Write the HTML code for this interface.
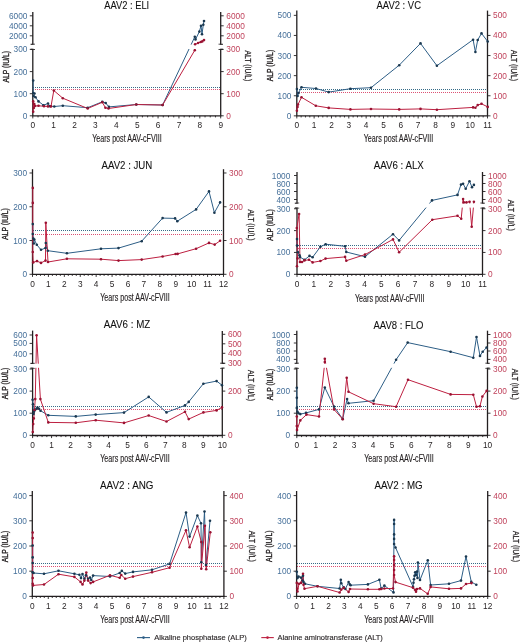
<!DOCTYPE html>
<html><head><meta charset="utf-8"><style>
html,body{margin:0;padding:0;background:#fff;}
svg{display:block;font-family:"Liberation Sans", sans-serif;will-change:transform;filter:blur(0.3px);}
</style></head><body>
<svg width="520" height="642" viewBox="0 0 520 642">
<text x="104.2" y="8.6" font-size="10.2" textLength="45" lengthAdjust="spacingAndGlyphs" fill="#111" stroke="#111" stroke-width="0.08">AAV2 : ELI</text>
<line x1="33" y1="87.5" x2="220.2" y2="87.5" stroke="#366c88" stroke-width="1" stroke-dasharray="1,1"/>
<line x1="33" y1="89.5" x2="220.2" y2="89.5" stroke="#dc5274" stroke-width="1" stroke-dasharray="1,1"/>
<line x1="32.8" y1="12" x2="32.8" y2="44.3" stroke="#231f20" stroke-width="1.3"/>
<line x1="32.8" y1="49.3" x2="32.8" y2="115.8" stroke="#231f20" stroke-width="1.3"/>
<line x1="220.7" y1="12" x2="220.7" y2="44.3" stroke="#231f20" stroke-width="1.3"/>
<line x1="220.7" y1="49.3" x2="220.7" y2="115.8" stroke="#231f20" stroke-width="1.3"/>
<line x1="30.6" y1="44.3" x2="35" y2="44.3" stroke="#231f20" stroke-width="1.1"/>
<line x1="30.6" y1="49.3" x2="35" y2="49.3" stroke="#231f20" stroke-width="1.1"/>
<line x1="218.5" y1="44.3" x2="222.9" y2="44.3" stroke="#231f20" stroke-width="1.1"/>
<line x1="218.5" y1="49.3" x2="222.9" y2="49.3" stroke="#231f20" stroke-width="1.1"/>
<line x1="32.2" y1="115.8" x2="221.3" y2="115.8" stroke="#231f20" stroke-width="1.3"/>
<line x1="32.8" y1="115.8" x2="32.8" y2="118.4" stroke="#231f20" stroke-width="0.9"/>
<line x1="38.02" y1="115.8" x2="38.02" y2="117.4" stroke="#231f20" stroke-width="0.9"/>
<line x1="43.24" y1="115.8" x2="43.24" y2="117.4" stroke="#231f20" stroke-width="0.9"/>
<line x1="48.46" y1="115.8" x2="48.46" y2="117.4" stroke="#231f20" stroke-width="0.9"/>
<line x1="53.68" y1="115.8" x2="53.68" y2="118.4" stroke="#231f20" stroke-width="0.9"/>
<line x1="58.9" y1="115.8" x2="58.9" y2="117.4" stroke="#231f20" stroke-width="0.9"/>
<line x1="64.12" y1="115.8" x2="64.12" y2="117.4" stroke="#231f20" stroke-width="0.9"/>
<line x1="69.34" y1="115.8" x2="69.34" y2="117.4" stroke="#231f20" stroke-width="0.9"/>
<line x1="74.56" y1="115.8" x2="74.56" y2="118.4" stroke="#231f20" stroke-width="0.9"/>
<line x1="79.77" y1="115.8" x2="79.77" y2="117.4" stroke="#231f20" stroke-width="0.9"/>
<line x1="84.99" y1="115.8" x2="84.99" y2="117.4" stroke="#231f20" stroke-width="0.9"/>
<line x1="90.21" y1="115.8" x2="90.21" y2="117.4" stroke="#231f20" stroke-width="0.9"/>
<line x1="95.43" y1="115.8" x2="95.43" y2="118.4" stroke="#231f20" stroke-width="0.9"/>
<line x1="100.65" y1="115.8" x2="100.65" y2="117.4" stroke="#231f20" stroke-width="0.9"/>
<line x1="105.87" y1="115.8" x2="105.87" y2="117.4" stroke="#231f20" stroke-width="0.9"/>
<line x1="111.09" y1="115.8" x2="111.09" y2="117.4" stroke="#231f20" stroke-width="0.9"/>
<line x1="116.31" y1="115.8" x2="116.31" y2="118.4" stroke="#231f20" stroke-width="0.9"/>
<line x1="121.53" y1="115.8" x2="121.53" y2="117.4" stroke="#231f20" stroke-width="0.9"/>
<line x1="126.75" y1="115.8" x2="126.75" y2="117.4" stroke="#231f20" stroke-width="0.9"/>
<line x1="131.97" y1="115.8" x2="131.97" y2="117.4" stroke="#231f20" stroke-width="0.9"/>
<line x1="137.19" y1="115.8" x2="137.19" y2="118.4" stroke="#231f20" stroke-width="0.9"/>
<line x1="142.41" y1="115.8" x2="142.41" y2="117.4" stroke="#231f20" stroke-width="0.9"/>
<line x1="147.63" y1="115.8" x2="147.63" y2="117.4" stroke="#231f20" stroke-width="0.9"/>
<line x1="152.85" y1="115.8" x2="152.85" y2="117.4" stroke="#231f20" stroke-width="0.9"/>
<line x1="158.07" y1="115.8" x2="158.07" y2="118.4" stroke="#231f20" stroke-width="0.9"/>
<line x1="163.29" y1="115.8" x2="163.29" y2="117.4" stroke="#231f20" stroke-width="0.9"/>
<line x1="168.51" y1="115.8" x2="168.51" y2="117.4" stroke="#231f20" stroke-width="0.9"/>
<line x1="173.72" y1="115.8" x2="173.72" y2="117.4" stroke="#231f20" stroke-width="0.9"/>
<line x1="178.94" y1="115.8" x2="178.94" y2="118.4" stroke="#231f20" stroke-width="0.9"/>
<line x1="184.16" y1="115.8" x2="184.16" y2="117.4" stroke="#231f20" stroke-width="0.9"/>
<line x1="189.38" y1="115.8" x2="189.38" y2="117.4" stroke="#231f20" stroke-width="0.9"/>
<line x1="194.6" y1="115.8" x2="194.6" y2="117.4" stroke="#231f20" stroke-width="0.9"/>
<line x1="199.82" y1="115.8" x2="199.82" y2="118.4" stroke="#231f20" stroke-width="0.9"/>
<line x1="205.04" y1="115.8" x2="205.04" y2="117.4" stroke="#231f20" stroke-width="0.9"/>
<line x1="210.26" y1="115.8" x2="210.26" y2="117.4" stroke="#231f20" stroke-width="0.9"/>
<line x1="215.48" y1="115.8" x2="215.48" y2="117.4" stroke="#231f20" stroke-width="0.9"/>
<line x1="220.7" y1="115.8" x2="220.7" y2="118.4" stroke="#231f20" stroke-width="0.9"/>
<text x="32.8" y="128.1" font-size="8.3" text-anchor="middle" fill="#231f20">0</text>
<text x="53.68" y="128.1" font-size="8.3" text-anchor="middle" fill="#231f20">1</text>
<text x="74.56" y="128.1" font-size="8.3" text-anchor="middle" fill="#231f20">2</text>
<text x="95.43" y="128.1" font-size="8.3" text-anchor="middle" fill="#231f20">3</text>
<text x="116.31" y="128.1" font-size="8.3" text-anchor="middle" fill="#231f20">4</text>
<text x="137.19" y="128.1" font-size="8.3" text-anchor="middle" fill="#231f20">5</text>
<text x="158.07" y="128.1" font-size="8.3" text-anchor="middle" fill="#231f20">6</text>
<text x="178.94" y="128.1" font-size="8.3" text-anchor="middle" fill="#231f20">7</text>
<text x="199.82" y="128.1" font-size="8.3" text-anchor="middle" fill="#231f20">8</text>
<text x="220.7" y="128.1" font-size="8.3" text-anchor="middle" fill="#231f20">9</text>
<line x1="29.8" y1="115.8" x2="32.8" y2="115.8" stroke="#231f20" stroke-width="0.9"/>
<text x="27.4" y="118.8" font-size="8.3" text-anchor="end" fill="#46709a">0</text>
<line x1="29.8" y1="93.7" x2="32.8" y2="93.7" stroke="#231f20" stroke-width="0.9"/>
<text x="27.4" y="96.7" font-size="8.3" text-anchor="end" fill="#46709a">100</text>
<line x1="29.8" y1="71.6" x2="32.8" y2="71.6" stroke="#231f20" stroke-width="0.9"/>
<text x="27.4" y="74.6" font-size="8.3" text-anchor="end" fill="#46709a">200</text>
<line x1="29.8" y1="49.4" x2="32.8" y2="49.4" stroke="#231f20" stroke-width="0.9"/>
<text x="27.4" y="52.4" font-size="8.3" text-anchor="end" fill="#46709a">300</text>
<line x1="29.8" y1="35.8" x2="32.8" y2="35.8" stroke="#231f20" stroke-width="0.9"/>
<text x="27.4" y="38.8" font-size="8.3" text-anchor="end" fill="#46709a">2000</text>
<line x1="29.8" y1="25.8" x2="32.8" y2="25.8" stroke="#231f20" stroke-width="0.9"/>
<text x="27.4" y="28.8" font-size="8.3" text-anchor="end" fill="#46709a">4000</text>
<line x1="29.8" y1="15.8" x2="32.8" y2="15.8" stroke="#231f20" stroke-width="0.9"/>
<text x="27.4" y="18.8" font-size="8.3" text-anchor="end" fill="#46709a">6000</text>
<line x1="220.7" y1="115.8" x2="223.7" y2="115.8" stroke="#231f20" stroke-width="0.9"/>
<text x="226.3" y="118.8" font-size="8.3" fill="#c0435c">0</text>
<line x1="220.7" y1="93.7" x2="223.7" y2="93.7" stroke="#231f20" stroke-width="0.9"/>
<text x="226.3" y="96.7" font-size="8.3" fill="#c0435c">100</text>
<line x1="220.7" y1="71.6" x2="223.7" y2="71.6" stroke="#231f20" stroke-width="0.9"/>
<text x="226.3" y="74.6" font-size="8.3" fill="#c0435c">200</text>
<line x1="220.7" y1="49.4" x2="223.7" y2="49.4" stroke="#231f20" stroke-width="0.9"/>
<text x="226.3" y="52.4" font-size="8.3" fill="#c0435c">300</text>
<line x1="220.7" y1="35.8" x2="223.7" y2="35.8" stroke="#231f20" stroke-width="0.9"/>
<text x="226.3" y="38.8" font-size="8.3" fill="#c0435c">2000</text>
<line x1="220.7" y1="25.8" x2="223.7" y2="25.8" stroke="#231f20" stroke-width="0.9"/>
<text x="226.3" y="28.8" font-size="8.3" fill="#c0435c">4000</text>
<line x1="220.7" y1="15.8" x2="223.7" y2="15.8" stroke="#231f20" stroke-width="0.9"/>
<text x="226.3" y="18.8" font-size="8.3" fill="#c0435c">6000</text>
<text x="126.9" y="141.9" font-size="10" text-anchor="middle" textLength="69.5" lengthAdjust="spacingAndGlyphs" fill="#231f20" stroke="#231f20" stroke-width="0.15">Years post AAV-cFVIII</text>
<text transform="translate(8.6,66.8) rotate(-90)" font-size="8.6" text-anchor="middle" textLength="31.5" lengthAdjust="spacingAndGlyphs" fill="#231f20" stroke="#231f20" stroke-width="0.35">ALP (IU/L)</text>
<text transform="translate(245,65.9) rotate(90)" font-size="8.8" text-anchor="middle" textLength="31" lengthAdjust="spacingAndGlyphs" fill="#231f20" stroke="#231f20" stroke-width="0.25">ALT (IU/L)</text>
<polyline points="33.2,80.5 33.2,93 34.5,93.5 33.6,96 35.5,97.3 38.5,101.4 43.5,105.2 48,103.5 50,106.2 54.3,106.5 62.8,105.7 87.7,107.7 102.3,101.8 105.7,103 108.9,106.9 136.3,104.5 162.6,105 194.8,36.8 195.5,39.4 199.4,31.6 201,25.7 202,34.2 203.3,24.7 204,21" fill="none" stroke="#2d5e86" stroke-width="1" stroke-linejoin="round"/>
<polyline points="33.2,111.7 33.2,101.4 33.8,108 34.3,104 35,106 38.5,105.8 44,106.2 48,106.4 51,106.4 53.8,90.5 62.8,98.2 87.7,108.5 102.3,102.3 105.4,107.7 108.5,108.5 136.3,104.5 162.6,105 194.8,50.2 195.1,44.3 198.1,43 200.7,42 202.3,41.4 204,40.1" fill="none" stroke="#bd1f40" stroke-width="1" stroke-linejoin="round"/>
<rect x="33.6" y="44.6" width="186.3" height="4.4" fill="#fff"/>
<circle cx="33.2" cy="80.5" r="1.3" fill="#1a3850"/>
<circle cx="33.2" cy="93" r="1.3" fill="#1a3850"/>
<circle cx="34.5" cy="93.5" r="1.3" fill="#1a3850"/>
<circle cx="33.6" cy="96" r="1.3" fill="#1a3850"/>
<circle cx="35.5" cy="97.3" r="1.3" fill="#1a3850"/>
<circle cx="38.5" cy="101.4" r="1.3" fill="#1a3850"/>
<circle cx="43.5" cy="105.2" r="1.3" fill="#1a3850"/>
<circle cx="48" cy="103.5" r="1.3" fill="#1a3850"/>
<circle cx="50" cy="106.2" r="1.3" fill="#1a3850"/>
<circle cx="54.3" cy="106.5" r="1.3" fill="#1a3850"/>
<circle cx="62.8" cy="105.7" r="1.3" fill="#1a3850"/>
<circle cx="87.7" cy="107.7" r="1.3" fill="#1a3850"/>
<circle cx="102.3" cy="101.8" r="1.3" fill="#1a3850"/>
<circle cx="105.7" cy="103" r="1.3" fill="#1a3850"/>
<circle cx="108.9" cy="106.9" r="1.3" fill="#1a3850"/>
<circle cx="136.3" cy="104.5" r="1.3" fill="#1a3850"/>
<circle cx="162.6" cy="105" r="1.3" fill="#1a3850"/>
<circle cx="194.8" cy="36.8" r="1.3" fill="#1a3850"/>
<circle cx="195.5" cy="39.4" r="1.3" fill="#1a3850"/>
<circle cx="199.4" cy="31.6" r="1.3" fill="#1a3850"/>
<circle cx="201" cy="25.7" r="1.3" fill="#1a3850"/>
<circle cx="202" cy="34.2" r="1.3" fill="#1a3850"/>
<circle cx="203.3" cy="24.7" r="1.3" fill="#1a3850"/>
<circle cx="204" cy="21" r="1.3" fill="#1a3850"/>
<circle cx="33.2" cy="111.7" r="1.3" fill="#9a1232"/>
<circle cx="33.2" cy="101.4" r="1.3" fill="#9a1232"/>
<circle cx="33.8" cy="108" r="1.3" fill="#9a1232"/>
<circle cx="34.3" cy="104" r="1.3" fill="#9a1232"/>
<circle cx="35" cy="106" r="1.3" fill="#9a1232"/>
<circle cx="38.5" cy="105.8" r="1.3" fill="#9a1232"/>
<circle cx="44" cy="106.2" r="1.3" fill="#9a1232"/>
<circle cx="48" cy="106.4" r="1.3" fill="#9a1232"/>
<circle cx="51" cy="106.4" r="1.3" fill="#9a1232"/>
<circle cx="53.8" cy="90.5" r="1.3" fill="#9a1232"/>
<circle cx="62.8" cy="98.2" r="1.3" fill="#9a1232"/>
<circle cx="87.7" cy="108.5" r="1.3" fill="#9a1232"/>
<circle cx="102.3" cy="102.3" r="1.3" fill="#9a1232"/>
<circle cx="105.4" cy="107.7" r="1.3" fill="#9a1232"/>
<circle cx="108.5" cy="108.5" r="1.3" fill="#9a1232"/>
<circle cx="136.3" cy="104.5" r="1.3" fill="#9a1232"/>
<circle cx="162.6" cy="105" r="1.3" fill="#9a1232"/>
<circle cx="194.8" cy="50.2" r="1.3" fill="#9a1232"/>
<circle cx="195.1" cy="44.3" r="1.3" fill="#9a1232"/>
<circle cx="198.1" cy="43" r="1.3" fill="#9a1232"/>
<circle cx="200.7" cy="42" r="1.3" fill="#9a1232"/>
<circle cx="202.3" cy="41.4" r="1.3" fill="#9a1232"/>
<circle cx="204" cy="40.1" r="1.3" fill="#9a1232"/>
<text x="376.5" y="8.6" font-size="10.2" textLength="44.5" lengthAdjust="spacingAndGlyphs" fill="#111" stroke="#111" stroke-width="0.08">AAV2 : VC</text>
<line x1="297" y1="89.5" x2="487" y2="89.5" stroke="#366c88" stroke-width="1" stroke-dasharray="1,1"/>
<line x1="297" y1="92.5" x2="487" y2="92.5" stroke="#dc5274" stroke-width="1" stroke-dasharray="1,1"/>
<line x1="296.8" y1="10.6" x2="296.8" y2="115.85" stroke="#231f20" stroke-width="1.3"/>
<line x1="487.5" y1="10.6" x2="487.5" y2="115.85" stroke="#231f20" stroke-width="1.3"/>
<line x1="296.2" y1="115.85" x2="488.1" y2="115.85" stroke="#231f20" stroke-width="1.3"/>
<line x1="296.8" y1="115.85" x2="296.8" y2="118.45" stroke="#231f20" stroke-width="0.9"/>
<line x1="301.13" y1="115.85" x2="301.13" y2="117.45" stroke="#231f20" stroke-width="0.9"/>
<line x1="305.47" y1="115.85" x2="305.47" y2="117.45" stroke="#231f20" stroke-width="0.9"/>
<line x1="309.8" y1="115.85" x2="309.8" y2="117.45" stroke="#231f20" stroke-width="0.9"/>
<line x1="314.14" y1="115.85" x2="314.14" y2="118.45" stroke="#231f20" stroke-width="0.9"/>
<line x1="318.47" y1="115.85" x2="318.47" y2="117.45" stroke="#231f20" stroke-width="0.9"/>
<line x1="322.8" y1="115.85" x2="322.8" y2="117.45" stroke="#231f20" stroke-width="0.9"/>
<line x1="327.14" y1="115.85" x2="327.14" y2="117.45" stroke="#231f20" stroke-width="0.9"/>
<line x1="331.47" y1="115.85" x2="331.47" y2="118.45" stroke="#231f20" stroke-width="0.9"/>
<line x1="335.81" y1="115.85" x2="335.81" y2="117.45" stroke="#231f20" stroke-width="0.9"/>
<line x1="340.14" y1="115.85" x2="340.14" y2="117.45" stroke="#231f20" stroke-width="0.9"/>
<line x1="344.48" y1="115.85" x2="344.48" y2="117.45" stroke="#231f20" stroke-width="0.9"/>
<line x1="348.81" y1="115.85" x2="348.81" y2="118.45" stroke="#231f20" stroke-width="0.9"/>
<line x1="353.14" y1="115.85" x2="353.14" y2="117.45" stroke="#231f20" stroke-width="0.9"/>
<line x1="357.48" y1="115.85" x2="357.48" y2="117.45" stroke="#231f20" stroke-width="0.9"/>
<line x1="361.81" y1="115.85" x2="361.81" y2="117.45" stroke="#231f20" stroke-width="0.9"/>
<line x1="366.15" y1="115.85" x2="366.15" y2="118.45" stroke="#231f20" stroke-width="0.9"/>
<line x1="370.48" y1="115.85" x2="370.48" y2="117.45" stroke="#231f20" stroke-width="0.9"/>
<line x1="374.81" y1="115.85" x2="374.81" y2="117.45" stroke="#231f20" stroke-width="0.9"/>
<line x1="379.15" y1="115.85" x2="379.15" y2="117.45" stroke="#231f20" stroke-width="0.9"/>
<line x1="383.48" y1="115.85" x2="383.48" y2="118.45" stroke="#231f20" stroke-width="0.9"/>
<line x1="387.82" y1="115.85" x2="387.82" y2="117.45" stroke="#231f20" stroke-width="0.9"/>
<line x1="392.15" y1="115.85" x2="392.15" y2="117.45" stroke="#231f20" stroke-width="0.9"/>
<line x1="396.48" y1="115.85" x2="396.48" y2="117.45" stroke="#231f20" stroke-width="0.9"/>
<line x1="400.82" y1="115.85" x2="400.82" y2="118.45" stroke="#231f20" stroke-width="0.9"/>
<line x1="405.15" y1="115.85" x2="405.15" y2="117.45" stroke="#231f20" stroke-width="0.9"/>
<line x1="409.49" y1="115.85" x2="409.49" y2="117.45" stroke="#231f20" stroke-width="0.9"/>
<line x1="413.82" y1="115.85" x2="413.82" y2="117.45" stroke="#231f20" stroke-width="0.9"/>
<line x1="418.15" y1="115.85" x2="418.15" y2="118.45" stroke="#231f20" stroke-width="0.9"/>
<line x1="422.49" y1="115.85" x2="422.49" y2="117.45" stroke="#231f20" stroke-width="0.9"/>
<line x1="426.82" y1="115.85" x2="426.82" y2="117.45" stroke="#231f20" stroke-width="0.9"/>
<line x1="431.16" y1="115.85" x2="431.16" y2="117.45" stroke="#231f20" stroke-width="0.9"/>
<line x1="435.49" y1="115.85" x2="435.49" y2="118.45" stroke="#231f20" stroke-width="0.9"/>
<line x1="439.83" y1="115.85" x2="439.83" y2="117.45" stroke="#231f20" stroke-width="0.9"/>
<line x1="444.16" y1="115.85" x2="444.16" y2="117.45" stroke="#231f20" stroke-width="0.9"/>
<line x1="448.49" y1="115.85" x2="448.49" y2="117.45" stroke="#231f20" stroke-width="0.9"/>
<line x1="452.83" y1="115.85" x2="452.83" y2="118.45" stroke="#231f20" stroke-width="0.9"/>
<line x1="457.16" y1="115.85" x2="457.16" y2="117.45" stroke="#231f20" stroke-width="0.9"/>
<line x1="461.5" y1="115.85" x2="461.5" y2="117.45" stroke="#231f20" stroke-width="0.9"/>
<line x1="465.83" y1="115.85" x2="465.83" y2="117.45" stroke="#231f20" stroke-width="0.9"/>
<line x1="470.16" y1="115.85" x2="470.16" y2="118.45" stroke="#231f20" stroke-width="0.9"/>
<line x1="474.5" y1="115.85" x2="474.5" y2="117.45" stroke="#231f20" stroke-width="0.9"/>
<line x1="478.83" y1="115.85" x2="478.83" y2="117.45" stroke="#231f20" stroke-width="0.9"/>
<line x1="483.17" y1="115.85" x2="483.17" y2="117.45" stroke="#231f20" stroke-width="0.9"/>
<line x1="487.5" y1="115.85" x2="487.5" y2="118.45" stroke="#231f20" stroke-width="0.9"/>
<text x="296.8" y="128.15" font-size="8.3" text-anchor="middle" fill="#231f20">0</text>
<text x="314.14" y="128.15" font-size="8.3" text-anchor="middle" fill="#231f20">1</text>
<text x="331.47" y="128.15" font-size="8.3" text-anchor="middle" fill="#231f20">2</text>
<text x="348.81" y="128.15" font-size="8.3" text-anchor="middle" fill="#231f20">3</text>
<text x="366.15" y="128.15" font-size="8.3" text-anchor="middle" fill="#231f20">4</text>
<text x="383.48" y="128.15" font-size="8.3" text-anchor="middle" fill="#231f20">5</text>
<text x="400.82" y="128.15" font-size="8.3" text-anchor="middle" fill="#231f20">6</text>
<text x="418.15" y="128.15" font-size="8.3" text-anchor="middle" fill="#231f20">7</text>
<text x="435.49" y="128.15" font-size="8.3" text-anchor="middle" fill="#231f20">8</text>
<text x="452.83" y="128.15" font-size="8.3" text-anchor="middle" fill="#231f20">9</text>
<text x="470.16" y="128.15" font-size="8.3" text-anchor="middle" fill="#231f20">10</text>
<text x="487.5" y="128.15" font-size="8.3" text-anchor="middle" fill="#231f20">11</text>
<line x1="293.8" y1="115.85" x2="296.8" y2="115.85" stroke="#231f20" stroke-width="0.9"/>
<text x="291.4" y="118.85" font-size="8.3" text-anchor="end" fill="#46709a">0</text>
<line x1="293.8" y1="95.75" x2="296.8" y2="95.75" stroke="#231f20" stroke-width="0.9"/>
<text x="291.4" y="98.75" font-size="8.3" text-anchor="end" fill="#46709a">100</text>
<line x1="293.8" y1="75.65" x2="296.8" y2="75.65" stroke="#231f20" stroke-width="0.9"/>
<text x="291.4" y="78.65" font-size="8.3" text-anchor="end" fill="#46709a">200</text>
<line x1="293.8" y1="55.55" x2="296.8" y2="55.55" stroke="#231f20" stroke-width="0.9"/>
<text x="291.4" y="58.55" font-size="8.3" text-anchor="end" fill="#46709a">300</text>
<line x1="293.8" y1="35.45" x2="296.8" y2="35.45" stroke="#231f20" stroke-width="0.9"/>
<text x="291.4" y="38.45" font-size="8.3" text-anchor="end" fill="#46709a">400</text>
<line x1="293.8" y1="15.35" x2="296.8" y2="15.35" stroke="#231f20" stroke-width="0.9"/>
<text x="291.4" y="18.35" font-size="8.3" text-anchor="end" fill="#46709a">500</text>
<line x1="487.5" y1="115.85" x2="490.5" y2="115.85" stroke="#231f20" stroke-width="0.9"/>
<text x="493.1" y="118.85" font-size="8.3" fill="#c0435c">0</text>
<line x1="487.5" y1="95.75" x2="490.5" y2="95.75" stroke="#231f20" stroke-width="0.9"/>
<text x="493.1" y="98.75" font-size="8.3" fill="#c0435c">100</text>
<line x1="487.5" y1="75.65" x2="490.5" y2="75.65" stroke="#231f20" stroke-width="0.9"/>
<text x="493.1" y="78.65" font-size="8.3" fill="#c0435c">200</text>
<line x1="487.5" y1="55.55" x2="490.5" y2="55.55" stroke="#231f20" stroke-width="0.9"/>
<text x="493.1" y="58.55" font-size="8.3" fill="#c0435c">300</text>
<line x1="487.5" y1="35.45" x2="490.5" y2="35.45" stroke="#231f20" stroke-width="0.9"/>
<text x="493.1" y="38.45" font-size="8.3" fill="#c0435c">400</text>
<line x1="487.5" y1="15.35" x2="490.5" y2="15.35" stroke="#231f20" stroke-width="0.9"/>
<text x="493.1" y="18.35" font-size="8.3" fill="#c0435c">500</text>
<text x="398.5" y="141.8" font-size="10" text-anchor="middle" textLength="69.5" lengthAdjust="spacingAndGlyphs" fill="#231f20" stroke="#231f20" stroke-width="0.15">Years post AAV-cFVIII</text>
<text transform="translate(272.6,65.6) rotate(-90)" font-size="8.6" text-anchor="middle" textLength="31.5" lengthAdjust="spacingAndGlyphs" fill="#231f20" stroke="#231f20" stroke-width="0.35">ALP (IU/L)</text>
<text transform="translate(511.3,65.6) rotate(90)" font-size="8.8" text-anchor="middle" textLength="31" lengthAdjust="spacingAndGlyphs" fill="#231f20" stroke="#231f20" stroke-width="0.25">ALT (IU/L)</text>
<polyline points="296.9,89 297.6,96 298.5,93 301.5,87.3 316,88.5 328.7,92.1 350.4,88.7 371,87.7 399.2,65.2 420.5,43.4 436.9,65.7 473.1,39.7 475.4,52 477.7,40 481.5,33.4 487.7,41.5" fill="none" stroke="#2d5e86" stroke-width="1" stroke-linejoin="round"/>
<polyline points="296.9,110.8 297.5,106.9 298,104.5 301.5,97.3 315.8,105.8 328.7,107.9 350.4,109.4 371,109 399.2,109.4 420.5,108.9 436.9,109.7 473.1,107.4 475.4,107.7 477.7,105.1 481.5,103.8 487.7,106.9" fill="none" stroke="#bd1f40" stroke-width="1" stroke-linejoin="round"/>
<circle cx="296.9" cy="89" r="1.3" fill="#1a3850"/>
<circle cx="297.6" cy="96" r="1.3" fill="#1a3850"/>
<circle cx="298.5" cy="93" r="1.3" fill="#1a3850"/>
<circle cx="301.5" cy="87.3" r="1.3" fill="#1a3850"/>
<circle cx="316" cy="88.5" r="1.3" fill="#1a3850"/>
<circle cx="328.7" cy="92.1" r="1.3" fill="#1a3850"/>
<circle cx="350.4" cy="88.7" r="1.3" fill="#1a3850"/>
<circle cx="371" cy="87.7" r="1.3" fill="#1a3850"/>
<circle cx="399.2" cy="65.2" r="1.3" fill="#1a3850"/>
<circle cx="420.5" cy="43.4" r="1.3" fill="#1a3850"/>
<circle cx="436.9" cy="65.7" r="1.3" fill="#1a3850"/>
<circle cx="473.1" cy="39.7" r="1.3" fill="#1a3850"/>
<circle cx="475.4" cy="52" r="1.3" fill="#1a3850"/>
<circle cx="477.7" cy="40" r="1.3" fill="#1a3850"/>
<circle cx="481.5" cy="33.4" r="1.3" fill="#1a3850"/>
<circle cx="487.7" cy="41.5" r="1.3" fill="#1a3850"/>
<circle cx="296.9" cy="110.8" r="1.3" fill="#9a1232"/>
<circle cx="297.5" cy="106.9" r="1.3" fill="#9a1232"/>
<circle cx="298" cy="104.5" r="1.3" fill="#9a1232"/>
<circle cx="301.5" cy="97.3" r="1.3" fill="#9a1232"/>
<circle cx="315.8" cy="105.8" r="1.3" fill="#9a1232"/>
<circle cx="328.7" cy="107.9" r="1.3" fill="#9a1232"/>
<circle cx="350.4" cy="109.4" r="1.3" fill="#9a1232"/>
<circle cx="371" cy="109" r="1.3" fill="#9a1232"/>
<circle cx="399.2" cy="109.4" r="1.3" fill="#9a1232"/>
<circle cx="420.5" cy="108.9" r="1.3" fill="#9a1232"/>
<circle cx="436.9" cy="109.7" r="1.3" fill="#9a1232"/>
<circle cx="473.1" cy="107.4" r="1.3" fill="#9a1232"/>
<circle cx="475.4" cy="107.7" r="1.3" fill="#9a1232"/>
<circle cx="477.7" cy="105.1" r="1.3" fill="#9a1232"/>
<circle cx="481.5" cy="103.8" r="1.3" fill="#9a1232"/>
<circle cx="487.7" cy="106.9" r="1.3" fill="#9a1232"/>
<text x="101.5" y="169.1" font-size="10.2" textLength="50.8" lengthAdjust="spacingAndGlyphs" fill="#111" stroke="#111" stroke-width="0.08">AAV2 : JUN</text>
<line x1="33" y1="230.5" x2="223" y2="230.5" stroke="#366c88" stroke-width="1" stroke-dasharray="1,1"/>
<line x1="33" y1="234.5" x2="223" y2="234.5" stroke="#dc5274" stroke-width="1" stroke-dasharray="1,1"/>
<line x1="32.5" y1="169.2" x2="32.5" y2="274.3" stroke="#231f20" stroke-width="1.3"/>
<line x1="223.5" y1="169.2" x2="223.5" y2="274.3" stroke="#231f20" stroke-width="1.3"/>
<line x1="31.9" y1="274.3" x2="224.1" y2="274.3" stroke="#231f20" stroke-width="1.3"/>
<line x1="32.5" y1="274.3" x2="32.5" y2="276.9" stroke="#231f20" stroke-width="0.9"/>
<line x1="36.48" y1="274.3" x2="36.48" y2="275.9" stroke="#231f20" stroke-width="0.9"/>
<line x1="40.46" y1="274.3" x2="40.46" y2="275.9" stroke="#231f20" stroke-width="0.9"/>
<line x1="44.44" y1="274.3" x2="44.44" y2="275.9" stroke="#231f20" stroke-width="0.9"/>
<line x1="48.42" y1="274.3" x2="48.42" y2="276.9" stroke="#231f20" stroke-width="0.9"/>
<line x1="52.4" y1="274.3" x2="52.4" y2="275.9" stroke="#231f20" stroke-width="0.9"/>
<line x1="56.38" y1="274.3" x2="56.38" y2="275.9" stroke="#231f20" stroke-width="0.9"/>
<line x1="60.35" y1="274.3" x2="60.35" y2="275.9" stroke="#231f20" stroke-width="0.9"/>
<line x1="64.33" y1="274.3" x2="64.33" y2="276.9" stroke="#231f20" stroke-width="0.9"/>
<line x1="68.31" y1="274.3" x2="68.31" y2="275.9" stroke="#231f20" stroke-width="0.9"/>
<line x1="72.29" y1="274.3" x2="72.29" y2="275.9" stroke="#231f20" stroke-width="0.9"/>
<line x1="76.27" y1="274.3" x2="76.27" y2="275.9" stroke="#231f20" stroke-width="0.9"/>
<line x1="80.25" y1="274.3" x2="80.25" y2="276.9" stroke="#231f20" stroke-width="0.9"/>
<line x1="84.23" y1="274.3" x2="84.23" y2="275.9" stroke="#231f20" stroke-width="0.9"/>
<line x1="88.21" y1="274.3" x2="88.21" y2="275.9" stroke="#231f20" stroke-width="0.9"/>
<line x1="92.19" y1="274.3" x2="92.19" y2="275.9" stroke="#231f20" stroke-width="0.9"/>
<line x1="96.17" y1="274.3" x2="96.17" y2="276.9" stroke="#231f20" stroke-width="0.9"/>
<line x1="100.15" y1="274.3" x2="100.15" y2="275.9" stroke="#231f20" stroke-width="0.9"/>
<line x1="104.12" y1="274.3" x2="104.12" y2="275.9" stroke="#231f20" stroke-width="0.9"/>
<line x1="108.1" y1="274.3" x2="108.1" y2="275.9" stroke="#231f20" stroke-width="0.9"/>
<line x1="112.08" y1="274.3" x2="112.08" y2="276.9" stroke="#231f20" stroke-width="0.9"/>
<line x1="116.06" y1="274.3" x2="116.06" y2="275.9" stroke="#231f20" stroke-width="0.9"/>
<line x1="120.04" y1="274.3" x2="120.04" y2="275.9" stroke="#231f20" stroke-width="0.9"/>
<line x1="124.02" y1="274.3" x2="124.02" y2="275.9" stroke="#231f20" stroke-width="0.9"/>
<line x1="128" y1="274.3" x2="128" y2="276.9" stroke="#231f20" stroke-width="0.9"/>
<line x1="131.98" y1="274.3" x2="131.98" y2="275.9" stroke="#231f20" stroke-width="0.9"/>
<line x1="135.96" y1="274.3" x2="135.96" y2="275.9" stroke="#231f20" stroke-width="0.9"/>
<line x1="139.94" y1="274.3" x2="139.94" y2="275.9" stroke="#231f20" stroke-width="0.9"/>
<line x1="143.92" y1="274.3" x2="143.92" y2="276.9" stroke="#231f20" stroke-width="0.9"/>
<line x1="147.9" y1="274.3" x2="147.9" y2="275.9" stroke="#231f20" stroke-width="0.9"/>
<line x1="151.88" y1="274.3" x2="151.88" y2="275.9" stroke="#231f20" stroke-width="0.9"/>
<line x1="155.85" y1="274.3" x2="155.85" y2="275.9" stroke="#231f20" stroke-width="0.9"/>
<line x1="159.83" y1="274.3" x2="159.83" y2="276.9" stroke="#231f20" stroke-width="0.9"/>
<line x1="163.81" y1="274.3" x2="163.81" y2="275.9" stroke="#231f20" stroke-width="0.9"/>
<line x1="167.79" y1="274.3" x2="167.79" y2="275.9" stroke="#231f20" stroke-width="0.9"/>
<line x1="171.77" y1="274.3" x2="171.77" y2="275.9" stroke="#231f20" stroke-width="0.9"/>
<line x1="175.75" y1="274.3" x2="175.75" y2="276.9" stroke="#231f20" stroke-width="0.9"/>
<line x1="179.73" y1="274.3" x2="179.73" y2="275.9" stroke="#231f20" stroke-width="0.9"/>
<line x1="183.71" y1="274.3" x2="183.71" y2="275.9" stroke="#231f20" stroke-width="0.9"/>
<line x1="187.69" y1="274.3" x2="187.69" y2="275.9" stroke="#231f20" stroke-width="0.9"/>
<line x1="191.67" y1="274.3" x2="191.67" y2="276.9" stroke="#231f20" stroke-width="0.9"/>
<line x1="195.65" y1="274.3" x2="195.65" y2="275.9" stroke="#231f20" stroke-width="0.9"/>
<line x1="199.62" y1="274.3" x2="199.62" y2="275.9" stroke="#231f20" stroke-width="0.9"/>
<line x1="203.6" y1="274.3" x2="203.6" y2="275.9" stroke="#231f20" stroke-width="0.9"/>
<line x1="207.58" y1="274.3" x2="207.58" y2="276.9" stroke="#231f20" stroke-width="0.9"/>
<line x1="211.56" y1="274.3" x2="211.56" y2="275.9" stroke="#231f20" stroke-width="0.9"/>
<line x1="215.54" y1="274.3" x2="215.54" y2="275.9" stroke="#231f20" stroke-width="0.9"/>
<line x1="219.52" y1="274.3" x2="219.52" y2="275.9" stroke="#231f20" stroke-width="0.9"/>
<line x1="223.5" y1="274.3" x2="223.5" y2="276.9" stroke="#231f20" stroke-width="0.9"/>
<text x="32.5" y="286.6" font-size="8.3" text-anchor="middle" fill="#231f20">0</text>
<text x="48.42" y="286.6" font-size="8.3" text-anchor="middle" fill="#231f20">1</text>
<text x="64.33" y="286.6" font-size="8.3" text-anchor="middle" fill="#231f20">2</text>
<text x="80.25" y="286.6" font-size="8.3" text-anchor="middle" fill="#231f20">3</text>
<text x="96.17" y="286.6" font-size="8.3" text-anchor="middle" fill="#231f20">4</text>
<text x="112.08" y="286.6" font-size="8.3" text-anchor="middle" fill="#231f20">5</text>
<text x="128" y="286.6" font-size="8.3" text-anchor="middle" fill="#231f20">6</text>
<text x="143.92" y="286.6" font-size="8.3" text-anchor="middle" fill="#231f20">7</text>
<text x="159.83" y="286.6" font-size="8.3" text-anchor="middle" fill="#231f20">8</text>
<text x="175.75" y="286.6" font-size="8.3" text-anchor="middle" fill="#231f20">9</text>
<text x="191.67" y="286.6" font-size="8.3" text-anchor="middle" fill="#231f20">10</text>
<text x="207.58" y="286.6" font-size="8.3" text-anchor="middle" fill="#231f20">11</text>
<text x="223.5" y="286.6" font-size="8.3" text-anchor="middle" fill="#231f20">12</text>
<line x1="29.5" y1="274.3" x2="32.5" y2="274.3" stroke="#231f20" stroke-width="0.9"/>
<text x="27.1" y="277.3" font-size="8.3" text-anchor="end" fill="#46709a">0</text>
<line x1="29.5" y1="240.53" x2="32.5" y2="240.53" stroke="#231f20" stroke-width="0.9"/>
<text x="27.1" y="243.53" font-size="8.3" text-anchor="end" fill="#46709a">100</text>
<line x1="29.5" y1="206.76" x2="32.5" y2="206.76" stroke="#231f20" stroke-width="0.9"/>
<text x="27.1" y="209.76" font-size="8.3" text-anchor="end" fill="#46709a">200</text>
<line x1="29.5" y1="172.99" x2="32.5" y2="172.99" stroke="#231f20" stroke-width="0.9"/>
<text x="27.1" y="175.99" font-size="8.3" text-anchor="end" fill="#46709a">300</text>
<line x1="223.5" y1="274.3" x2="226.5" y2="274.3" stroke="#231f20" stroke-width="0.9"/>
<text x="229.1" y="277.3" font-size="8.3" fill="#c0435c">0</text>
<line x1="223.5" y1="240.53" x2="226.5" y2="240.53" stroke="#231f20" stroke-width="0.9"/>
<text x="229.1" y="243.53" font-size="8.3" fill="#c0435c">100</text>
<line x1="223.5" y1="206.76" x2="226.5" y2="206.76" stroke="#231f20" stroke-width="0.9"/>
<text x="229.1" y="209.76" font-size="8.3" fill="#c0435c">200</text>
<line x1="223.5" y1="172.99" x2="226.5" y2="172.99" stroke="#231f20" stroke-width="0.9"/>
<text x="229.1" y="175.99" font-size="8.3" fill="#c0435c">300</text>
<text x="135" y="301.3" font-size="10" text-anchor="middle" textLength="69.5" lengthAdjust="spacingAndGlyphs" fill="#231f20" stroke="#231f20" stroke-width="0.15">Years post AAV-cFVIII</text>
<text transform="translate(8.3,224) rotate(-90)" font-size="8.6" text-anchor="middle" textLength="31.5" lengthAdjust="spacingAndGlyphs" fill="#231f20" stroke="#231f20" stroke-width="0.35">ALP (IU/L)</text>
<text transform="translate(247.9,225) rotate(90)" font-size="8.8" text-anchor="middle" textLength="31" lengthAdjust="spacingAndGlyphs" fill="#231f20" stroke="#231f20" stroke-width="0.25">ALT (IU/L)</text>
<polyline points="32.8,224.1 32.8,234 33.3,238.5 33.8,243.5 34.3,239.5 36.8,244.8 41,249.8 45.5,248 45.8,243 47.8,250.7 66.9,253.3 101,248.8 118.5,248.1 141.7,241.2 162.6,218.1 175.1,218.4 177.3,221.2 196.1,209.4 209,191.4 214.4,212.7 220.1,202.4" fill="none" stroke="#2d5e86" stroke-width="1" stroke-linejoin="round"/>
<polyline points="32.8,187.9 32.8,202.9 32.8,252 33.2,262.4 37,261.1 41,262.9 45.5,260.6 45.8,222.7 48,262 66.9,258.8 101,259.2 118.5,260.6 141.7,259.6 162.6,256.5 175.6,254 177.6,253.9 196.1,248.7 209,242.9 214.7,244.6 220.1,240.8" fill="none" stroke="#bd1f40" stroke-width="1" stroke-linejoin="round"/>
<circle cx="32.8" cy="224.1" r="1.3" fill="#1a3850"/>
<circle cx="32.8" cy="234" r="1.3" fill="#1a3850"/>
<circle cx="33.3" cy="238.5" r="1.3" fill="#1a3850"/>
<circle cx="33.8" cy="243.5" r="1.3" fill="#1a3850"/>
<circle cx="34.3" cy="239.5" r="1.3" fill="#1a3850"/>
<circle cx="36.8" cy="244.8" r="1.3" fill="#1a3850"/>
<circle cx="41" cy="249.8" r="1.3" fill="#1a3850"/>
<circle cx="45.5" cy="248" r="1.3" fill="#1a3850"/>
<circle cx="45.8" cy="243" r="1.3" fill="#1a3850"/>
<circle cx="47.8" cy="250.7" r="1.3" fill="#1a3850"/>
<circle cx="66.9" cy="253.3" r="1.3" fill="#1a3850"/>
<circle cx="101" cy="248.8" r="1.3" fill="#1a3850"/>
<circle cx="118.5" cy="248.1" r="1.3" fill="#1a3850"/>
<circle cx="141.7" cy="241.2" r="1.3" fill="#1a3850"/>
<circle cx="162.6" cy="218.1" r="1.3" fill="#1a3850"/>
<circle cx="175.1" cy="218.4" r="1.3" fill="#1a3850"/>
<circle cx="177.3" cy="221.2" r="1.3" fill="#1a3850"/>
<circle cx="196.1" cy="209.4" r="1.3" fill="#1a3850"/>
<circle cx="209" cy="191.4" r="1.3" fill="#1a3850"/>
<circle cx="214.4" cy="212.7" r="1.3" fill="#1a3850"/>
<circle cx="220.1" cy="202.4" r="1.3" fill="#1a3850"/>
<circle cx="32.8" cy="187.9" r="1.3" fill="#9a1232"/>
<circle cx="32.8" cy="202.9" r="1.3" fill="#9a1232"/>
<circle cx="32.8" cy="252" r="1.3" fill="#9a1232"/>
<circle cx="33.2" cy="262.4" r="1.3" fill="#9a1232"/>
<circle cx="37" cy="261.1" r="1.3" fill="#9a1232"/>
<circle cx="41" cy="262.9" r="1.3" fill="#9a1232"/>
<circle cx="45.5" cy="260.6" r="1.3" fill="#9a1232"/>
<circle cx="45.8" cy="222.7" r="1.3" fill="#9a1232"/>
<circle cx="48" cy="262" r="1.3" fill="#9a1232"/>
<circle cx="66.9" cy="258.8" r="1.3" fill="#9a1232"/>
<circle cx="101" cy="259.2" r="1.3" fill="#9a1232"/>
<circle cx="118.5" cy="260.6" r="1.3" fill="#9a1232"/>
<circle cx="141.7" cy="259.6" r="1.3" fill="#9a1232"/>
<circle cx="162.6" cy="256.5" r="1.3" fill="#9a1232"/>
<circle cx="175.6" cy="254" r="1.3" fill="#9a1232"/>
<circle cx="177.6" cy="253.9" r="1.3" fill="#9a1232"/>
<circle cx="196.1" cy="248.7" r="1.3" fill="#9a1232"/>
<circle cx="209" cy="242.9" r="1.3" fill="#9a1232"/>
<circle cx="214.7" cy="244.6" r="1.3" fill="#9a1232"/>
<circle cx="220.1" cy="240.8" r="1.3" fill="#9a1232"/>
<text x="373.8" y="168.6" font-size="10.2" textLength="50" lengthAdjust="spacingAndGlyphs" fill="#111" stroke="#111" stroke-width="0.08">AAV6 : ALX</text>
<line x1="298" y1="245.5" x2="482" y2="245.5" stroke="#366c88" stroke-width="1" stroke-dasharray="1,1"/>
<line x1="298" y1="248.5" x2="482" y2="248.5" stroke="#dc5274" stroke-width="1" stroke-dasharray="1,1"/>
<line x1="297" y1="172" x2="297" y2="203.2" stroke="#231f20" stroke-width="1.3"/>
<line x1="297" y1="207.9" x2="297" y2="274.3" stroke="#231f20" stroke-width="1.3"/>
<line x1="482.5" y1="172" x2="482.5" y2="203.2" stroke="#231f20" stroke-width="1.3"/>
<line x1="482.5" y1="207.9" x2="482.5" y2="274.3" stroke="#231f20" stroke-width="1.3"/>
<line x1="294.8" y1="203.2" x2="299.2" y2="203.2" stroke="#231f20" stroke-width="1.1"/>
<line x1="294.8" y1="207.9" x2="299.2" y2="207.9" stroke="#231f20" stroke-width="1.1"/>
<line x1="480.3" y1="203.2" x2="484.7" y2="203.2" stroke="#231f20" stroke-width="1.1"/>
<line x1="480.3" y1="207.9" x2="484.7" y2="207.9" stroke="#231f20" stroke-width="1.1"/>
<line x1="296.4" y1="274.3" x2="483.1" y2="274.3" stroke="#231f20" stroke-width="1.3"/>
<line x1="297" y1="274.3" x2="297" y2="276.9" stroke="#231f20" stroke-width="0.9"/>
<line x1="301.22" y1="274.3" x2="301.22" y2="275.9" stroke="#231f20" stroke-width="0.9"/>
<line x1="305.43" y1="274.3" x2="305.43" y2="275.9" stroke="#231f20" stroke-width="0.9"/>
<line x1="309.65" y1="274.3" x2="309.65" y2="275.9" stroke="#231f20" stroke-width="0.9"/>
<line x1="313.86" y1="274.3" x2="313.86" y2="276.9" stroke="#231f20" stroke-width="0.9"/>
<line x1="318.08" y1="274.3" x2="318.08" y2="275.9" stroke="#231f20" stroke-width="0.9"/>
<line x1="322.3" y1="274.3" x2="322.3" y2="275.9" stroke="#231f20" stroke-width="0.9"/>
<line x1="326.51" y1="274.3" x2="326.51" y2="275.9" stroke="#231f20" stroke-width="0.9"/>
<line x1="330.73" y1="274.3" x2="330.73" y2="276.9" stroke="#231f20" stroke-width="0.9"/>
<line x1="334.94" y1="274.3" x2="334.94" y2="275.9" stroke="#231f20" stroke-width="0.9"/>
<line x1="339.16" y1="274.3" x2="339.16" y2="275.9" stroke="#231f20" stroke-width="0.9"/>
<line x1="343.38" y1="274.3" x2="343.38" y2="275.9" stroke="#231f20" stroke-width="0.9"/>
<line x1="347.59" y1="274.3" x2="347.59" y2="276.9" stroke="#231f20" stroke-width="0.9"/>
<line x1="351.81" y1="274.3" x2="351.81" y2="275.9" stroke="#231f20" stroke-width="0.9"/>
<line x1="356.02" y1="274.3" x2="356.02" y2="275.9" stroke="#231f20" stroke-width="0.9"/>
<line x1="360.24" y1="274.3" x2="360.24" y2="275.9" stroke="#231f20" stroke-width="0.9"/>
<line x1="364.45" y1="274.3" x2="364.45" y2="276.9" stroke="#231f20" stroke-width="0.9"/>
<line x1="368.67" y1="274.3" x2="368.67" y2="275.9" stroke="#231f20" stroke-width="0.9"/>
<line x1="372.89" y1="274.3" x2="372.89" y2="275.9" stroke="#231f20" stroke-width="0.9"/>
<line x1="377.1" y1="274.3" x2="377.1" y2="275.9" stroke="#231f20" stroke-width="0.9"/>
<line x1="381.32" y1="274.3" x2="381.32" y2="276.9" stroke="#231f20" stroke-width="0.9"/>
<line x1="385.53" y1="274.3" x2="385.53" y2="275.9" stroke="#231f20" stroke-width="0.9"/>
<line x1="389.75" y1="274.3" x2="389.75" y2="275.9" stroke="#231f20" stroke-width="0.9"/>
<line x1="393.97" y1="274.3" x2="393.97" y2="275.9" stroke="#231f20" stroke-width="0.9"/>
<line x1="398.18" y1="274.3" x2="398.18" y2="276.9" stroke="#231f20" stroke-width="0.9"/>
<line x1="402.4" y1="274.3" x2="402.4" y2="275.9" stroke="#231f20" stroke-width="0.9"/>
<line x1="406.61" y1="274.3" x2="406.61" y2="275.9" stroke="#231f20" stroke-width="0.9"/>
<line x1="410.83" y1="274.3" x2="410.83" y2="275.9" stroke="#231f20" stroke-width="0.9"/>
<line x1="415.05" y1="274.3" x2="415.05" y2="276.9" stroke="#231f20" stroke-width="0.9"/>
<line x1="419.26" y1="274.3" x2="419.26" y2="275.9" stroke="#231f20" stroke-width="0.9"/>
<line x1="423.48" y1="274.3" x2="423.48" y2="275.9" stroke="#231f20" stroke-width="0.9"/>
<line x1="427.69" y1="274.3" x2="427.69" y2="275.9" stroke="#231f20" stroke-width="0.9"/>
<line x1="431.91" y1="274.3" x2="431.91" y2="276.9" stroke="#231f20" stroke-width="0.9"/>
<line x1="436.12" y1="274.3" x2="436.12" y2="275.9" stroke="#231f20" stroke-width="0.9"/>
<line x1="440.34" y1="274.3" x2="440.34" y2="275.9" stroke="#231f20" stroke-width="0.9"/>
<line x1="444.56" y1="274.3" x2="444.56" y2="275.9" stroke="#231f20" stroke-width="0.9"/>
<line x1="448.77" y1="274.3" x2="448.77" y2="276.9" stroke="#231f20" stroke-width="0.9"/>
<line x1="452.99" y1="274.3" x2="452.99" y2="275.9" stroke="#231f20" stroke-width="0.9"/>
<line x1="457.2" y1="274.3" x2="457.2" y2="275.9" stroke="#231f20" stroke-width="0.9"/>
<line x1="461.42" y1="274.3" x2="461.42" y2="275.9" stroke="#231f20" stroke-width="0.9"/>
<line x1="465.64" y1="274.3" x2="465.64" y2="276.9" stroke="#231f20" stroke-width="0.9"/>
<line x1="469.85" y1="274.3" x2="469.85" y2="275.9" stroke="#231f20" stroke-width="0.9"/>
<line x1="474.07" y1="274.3" x2="474.07" y2="275.9" stroke="#231f20" stroke-width="0.9"/>
<line x1="478.28" y1="274.3" x2="478.28" y2="275.9" stroke="#231f20" stroke-width="0.9"/>
<line x1="482.5" y1="274.3" x2="482.5" y2="276.9" stroke="#231f20" stroke-width="0.9"/>
<text x="297" y="286.6" font-size="8.3" text-anchor="middle" fill="#231f20">0</text>
<text x="313.86" y="286.6" font-size="8.3" text-anchor="middle" fill="#231f20">1</text>
<text x="330.73" y="286.6" font-size="8.3" text-anchor="middle" fill="#231f20">2</text>
<text x="347.59" y="286.6" font-size="8.3" text-anchor="middle" fill="#231f20">3</text>
<text x="364.45" y="286.6" font-size="8.3" text-anchor="middle" fill="#231f20">4</text>
<text x="381.32" y="286.6" font-size="8.3" text-anchor="middle" fill="#231f20">5</text>
<text x="398.18" y="286.6" font-size="8.3" text-anchor="middle" fill="#231f20">6</text>
<text x="415.05" y="286.6" font-size="8.3" text-anchor="middle" fill="#231f20">7</text>
<text x="431.91" y="286.6" font-size="8.3" text-anchor="middle" fill="#231f20">8</text>
<text x="448.77" y="286.6" font-size="8.3" text-anchor="middle" fill="#231f20">9</text>
<text x="465.64" y="286.6" font-size="8.3" text-anchor="middle" fill="#231f20">10</text>
<text x="482.5" y="286.6" font-size="8.3" text-anchor="middle" fill="#231f20">11</text>
<line x1="294" y1="274.3" x2="297" y2="274.3" stroke="#231f20" stroke-width="0.9"/>
<text x="290.3" y="277.3" font-size="8.3" text-anchor="end" fill="#46709a">0</text>
<line x1="294" y1="252.45" x2="297" y2="252.45" stroke="#231f20" stroke-width="0.9"/>
<text x="290.3" y="255.45" font-size="8.3" text-anchor="end" fill="#46709a">100</text>
<line x1="294" y1="230.6" x2="297" y2="230.6" stroke="#231f20" stroke-width="0.9"/>
<text x="290.3" y="233.6" font-size="8.3" text-anchor="end" fill="#46709a">200</text>
<line x1="294" y1="208.75" x2="297" y2="208.75" stroke="#231f20" stroke-width="0.9"/>
<text x="290.3" y="211.75" font-size="8.3" text-anchor="end" fill="#46709a">300</text>
<line x1="294" y1="199.5" x2="297" y2="199.5" stroke="#231f20" stroke-width="0.9"/>
<text x="290.3" y="202.5" font-size="8.3" text-anchor="end" fill="#46709a">400</text>
<line x1="294" y1="191.5" x2="297" y2="191.5" stroke="#231f20" stroke-width="0.9"/>
<text x="290.3" y="194.5" font-size="8.3" text-anchor="end" fill="#46709a">600</text>
<line x1="294" y1="183.5" x2="297" y2="183.5" stroke="#231f20" stroke-width="0.9"/>
<text x="290.3" y="186.5" font-size="8.3" text-anchor="end" fill="#46709a">800</text>
<line x1="294" y1="175.5" x2="297" y2="175.5" stroke="#231f20" stroke-width="0.9"/>
<text x="290.3" y="178.5" font-size="8.3" text-anchor="end" fill="#46709a">1000</text>
<line x1="482.5" y1="274.3" x2="485.5" y2="274.3" stroke="#231f20" stroke-width="0.9"/>
<text x="488.1" y="277.3" font-size="8.3" fill="#c0435c">0</text>
<line x1="482.5" y1="252.45" x2="485.5" y2="252.45" stroke="#231f20" stroke-width="0.9"/>
<text x="488.1" y="255.45" font-size="8.3" fill="#c0435c">100</text>
<line x1="482.5" y1="230.6" x2="485.5" y2="230.6" stroke="#231f20" stroke-width="0.9"/>
<text x="488.1" y="233.6" font-size="8.3" fill="#c0435c">200</text>
<line x1="482.5" y1="208.75" x2="485.5" y2="208.75" stroke="#231f20" stroke-width="0.9"/>
<text x="488.1" y="211.75" font-size="8.3" fill="#c0435c">300</text>
<line x1="482.5" y1="199.5" x2="485.5" y2="199.5" stroke="#231f20" stroke-width="0.9"/>
<text x="488.1" y="202.5" font-size="8.3" fill="#c0435c">400</text>
<line x1="482.5" y1="191.5" x2="485.5" y2="191.5" stroke="#231f20" stroke-width="0.9"/>
<text x="488.1" y="194.5" font-size="8.3" fill="#c0435c">600</text>
<line x1="482.5" y1="183.5" x2="485.5" y2="183.5" stroke="#231f20" stroke-width="0.9"/>
<text x="488.1" y="186.5" font-size="8.3" fill="#c0435c">800</text>
<line x1="482.5" y1="175.5" x2="485.5" y2="175.5" stroke="#231f20" stroke-width="0.9"/>
<text x="488.1" y="178.5" font-size="8.3" fill="#c0435c">1000</text>
<text x="389.7" y="301.6" font-size="10" text-anchor="middle" textLength="69.5" lengthAdjust="spacingAndGlyphs" fill="#231f20" stroke="#231f20" stroke-width="0.15">Years post AAV-cFVIII</text>
<text transform="translate(272.8,225) rotate(-90)" font-size="8.6" text-anchor="middle" textLength="31.5" lengthAdjust="spacingAndGlyphs" fill="#231f20" stroke="#231f20" stroke-width="0.35">ALP (IU/L)</text>
<text transform="translate(508.15,215.3) rotate(90)" font-size="8.8" text-anchor="middle" textLength="31" lengthAdjust="spacingAndGlyphs" fill="#231f20" stroke="#231f20" stroke-width="0.25">ALT (IU/L)</text>
<polyline points="297,239.1 297,245.6 298,252.3 299.5,255.3 300,257.1 304.5,259.8 309.5,255.9 312.6,257.2 320.4,246.8 325.6,244.2 345.1,246.3 346.3,252 365,256.7 393,234.2 399.1,240.4 432,200.4 457.5,194.9 461,184.6 463.1,183.7 465.7,188.8 469.5,181.2 472,187.2 473.9,184.9" fill="none" stroke="#2d5e86" stroke-width="1" stroke-linejoin="round"/>
<polyline points="297,266.3 297.5,258.4 296.8,228 299.1,214 300,262 302,262 304.5,260.4 309,259.8 312.6,262.4 320.4,261 325.6,258.6 345.1,256.9 346.3,260.7 365,254.6 393,239.4 399.1,252.3 432.3,219.7 457.5,215.8 461.2,218.8 463.1,199.1 463.8,202.4 466.4,202.4 469.6,201.7 471.7,226.7 473.9,201.7" fill="none" stroke="#bd1f40" stroke-width="1" stroke-linejoin="round"/>
<rect x="297.8" y="203.5" width="183.9" height="4.1" fill="#fff"/>
<circle cx="297" cy="239.1" r="1.3" fill="#1a3850"/>
<circle cx="297" cy="245.6" r="1.3" fill="#1a3850"/>
<circle cx="298" cy="252.3" r="1.3" fill="#1a3850"/>
<circle cx="299.5" cy="255.3" r="1.3" fill="#1a3850"/>
<circle cx="300" cy="257.1" r="1.3" fill="#1a3850"/>
<circle cx="304.5" cy="259.8" r="1.3" fill="#1a3850"/>
<circle cx="309.5" cy="255.9" r="1.3" fill="#1a3850"/>
<circle cx="312.6" cy="257.2" r="1.3" fill="#1a3850"/>
<circle cx="320.4" cy="246.8" r="1.3" fill="#1a3850"/>
<circle cx="325.6" cy="244.2" r="1.3" fill="#1a3850"/>
<circle cx="345.1" cy="246.3" r="1.3" fill="#1a3850"/>
<circle cx="346.3" cy="252" r="1.3" fill="#1a3850"/>
<circle cx="365" cy="256.7" r="1.3" fill="#1a3850"/>
<circle cx="393" cy="234.2" r="1.3" fill="#1a3850"/>
<circle cx="399.1" cy="240.4" r="1.3" fill="#1a3850"/>
<circle cx="432" cy="200.4" r="1.3" fill="#1a3850"/>
<circle cx="457.5" cy="194.9" r="1.3" fill="#1a3850"/>
<circle cx="461" cy="184.6" r="1.3" fill="#1a3850"/>
<circle cx="463.1" cy="183.7" r="1.3" fill="#1a3850"/>
<circle cx="465.7" cy="188.8" r="1.3" fill="#1a3850"/>
<circle cx="469.5" cy="181.2" r="1.3" fill="#1a3850"/>
<circle cx="472" cy="187.2" r="1.3" fill="#1a3850"/>
<circle cx="473.9" cy="184.9" r="1.3" fill="#1a3850"/>
<circle cx="297" cy="266.3" r="1.3" fill="#9a1232"/>
<circle cx="297.5" cy="258.4" r="1.3" fill="#9a1232"/>
<circle cx="296.8" cy="228" r="1.3" fill="#9a1232"/>
<circle cx="299.1" cy="214" r="1.3" fill="#9a1232"/>
<circle cx="300" cy="262" r="1.3" fill="#9a1232"/>
<circle cx="302" cy="262" r="1.3" fill="#9a1232"/>
<circle cx="304.5" cy="260.4" r="1.3" fill="#9a1232"/>
<circle cx="309" cy="259.8" r="1.3" fill="#9a1232"/>
<circle cx="312.6" cy="262.4" r="1.3" fill="#9a1232"/>
<circle cx="320.4" cy="261" r="1.3" fill="#9a1232"/>
<circle cx="325.6" cy="258.6" r="1.3" fill="#9a1232"/>
<circle cx="345.1" cy="256.9" r="1.3" fill="#9a1232"/>
<circle cx="346.3" cy="260.7" r="1.3" fill="#9a1232"/>
<circle cx="365" cy="254.6" r="1.3" fill="#9a1232"/>
<circle cx="393" cy="239.4" r="1.3" fill="#9a1232"/>
<circle cx="399.1" cy="252.3" r="1.3" fill="#9a1232"/>
<circle cx="432.3" cy="219.7" r="1.3" fill="#9a1232"/>
<circle cx="457.5" cy="215.8" r="1.3" fill="#9a1232"/>
<circle cx="461.2" cy="218.8" r="1.3" fill="#9a1232"/>
<circle cx="463.1" cy="199.1" r="1.3" fill="#9a1232"/>
<circle cx="463.8" cy="202.4" r="1.3" fill="#9a1232"/>
<circle cx="466.4" cy="202.4" r="1.3" fill="#9a1232"/>
<circle cx="469.6" cy="201.7" r="1.3" fill="#9a1232"/>
<circle cx="471.7" cy="226.7" r="1.3" fill="#9a1232"/>
<circle cx="473.9" cy="201.7" r="1.3" fill="#9a1232"/>
<text x="103.8" y="328.3" font-size="10.2" textLength="46.5" lengthAdjust="spacingAndGlyphs" fill="#111" stroke="#111" stroke-width="0.08">AAV6 : MZ</text>
<line x1="33" y1="406.5" x2="221.8" y2="406.5" stroke="#366c88" stroke-width="1" stroke-dasharray="1,1"/>
<line x1="33" y1="409.5" x2="221.8" y2="409.5" stroke="#dc5274" stroke-width="1" stroke-dasharray="1,1"/>
<line x1="32.6" y1="330.6" x2="32.6" y2="363.4" stroke="#231f20" stroke-width="1.3"/>
<line x1="32.6" y1="368.1" x2="32.6" y2="435.5" stroke="#231f20" stroke-width="1.3"/>
<line x1="222.3" y1="331" x2="222.3" y2="363.3" stroke="#231f20" stroke-width="1.3"/>
<line x1="222.3" y1="368.1" x2="222.3" y2="435.5" stroke="#231f20" stroke-width="1.3"/>
<line x1="30.4" y1="363.4" x2="34.8" y2="363.4" stroke="#231f20" stroke-width="1.1"/>
<line x1="30.4" y1="368.1" x2="34.8" y2="368.1" stroke="#231f20" stroke-width="1.1"/>
<line x1="220.1" y1="363.3" x2="224.5" y2="363.3" stroke="#231f20" stroke-width="1.1"/>
<line x1="220.1" y1="368.1" x2="224.5" y2="368.1" stroke="#231f20" stroke-width="1.1"/>
<line x1="32" y1="435.5" x2="222.9" y2="435.5" stroke="#231f20" stroke-width="1.3"/>
<line x1="32.6" y1="435.5" x2="32.6" y2="438.1" stroke="#231f20" stroke-width="0.9"/>
<line x1="37.34" y1="435.5" x2="37.34" y2="437.1" stroke="#231f20" stroke-width="0.9"/>
<line x1="42.09" y1="435.5" x2="42.09" y2="437.1" stroke="#231f20" stroke-width="0.9"/>
<line x1="46.83" y1="435.5" x2="46.83" y2="437.1" stroke="#231f20" stroke-width="0.9"/>
<line x1="51.57" y1="435.5" x2="51.57" y2="438.1" stroke="#231f20" stroke-width="0.9"/>
<line x1="56.31" y1="435.5" x2="56.31" y2="437.1" stroke="#231f20" stroke-width="0.9"/>
<line x1="61.06" y1="435.5" x2="61.06" y2="437.1" stroke="#231f20" stroke-width="0.9"/>
<line x1="65.8" y1="435.5" x2="65.8" y2="437.1" stroke="#231f20" stroke-width="0.9"/>
<line x1="70.54" y1="435.5" x2="70.54" y2="438.1" stroke="#231f20" stroke-width="0.9"/>
<line x1="75.28" y1="435.5" x2="75.28" y2="437.1" stroke="#231f20" stroke-width="0.9"/>
<line x1="80.03" y1="435.5" x2="80.03" y2="437.1" stroke="#231f20" stroke-width="0.9"/>
<line x1="84.77" y1="435.5" x2="84.77" y2="437.1" stroke="#231f20" stroke-width="0.9"/>
<line x1="89.51" y1="435.5" x2="89.51" y2="438.1" stroke="#231f20" stroke-width="0.9"/>
<line x1="94.25" y1="435.5" x2="94.25" y2="437.1" stroke="#231f20" stroke-width="0.9"/>
<line x1="99" y1="435.5" x2="99" y2="437.1" stroke="#231f20" stroke-width="0.9"/>
<line x1="103.74" y1="435.5" x2="103.74" y2="437.1" stroke="#231f20" stroke-width="0.9"/>
<line x1="108.48" y1="435.5" x2="108.48" y2="438.1" stroke="#231f20" stroke-width="0.9"/>
<line x1="113.22" y1="435.5" x2="113.22" y2="437.1" stroke="#231f20" stroke-width="0.9"/>
<line x1="117.97" y1="435.5" x2="117.97" y2="437.1" stroke="#231f20" stroke-width="0.9"/>
<line x1="122.71" y1="435.5" x2="122.71" y2="437.1" stroke="#231f20" stroke-width="0.9"/>
<line x1="127.45" y1="435.5" x2="127.45" y2="438.1" stroke="#231f20" stroke-width="0.9"/>
<line x1="132.19" y1="435.5" x2="132.19" y2="437.1" stroke="#231f20" stroke-width="0.9"/>
<line x1="136.94" y1="435.5" x2="136.94" y2="437.1" stroke="#231f20" stroke-width="0.9"/>
<line x1="141.68" y1="435.5" x2="141.68" y2="437.1" stroke="#231f20" stroke-width="0.9"/>
<line x1="146.42" y1="435.5" x2="146.42" y2="438.1" stroke="#231f20" stroke-width="0.9"/>
<line x1="151.16" y1="435.5" x2="151.16" y2="437.1" stroke="#231f20" stroke-width="0.9"/>
<line x1="155.91" y1="435.5" x2="155.91" y2="437.1" stroke="#231f20" stroke-width="0.9"/>
<line x1="160.65" y1="435.5" x2="160.65" y2="437.1" stroke="#231f20" stroke-width="0.9"/>
<line x1="165.39" y1="435.5" x2="165.39" y2="438.1" stroke="#231f20" stroke-width="0.9"/>
<line x1="170.13" y1="435.5" x2="170.13" y2="437.1" stroke="#231f20" stroke-width="0.9"/>
<line x1="174.88" y1="435.5" x2="174.88" y2="437.1" stroke="#231f20" stroke-width="0.9"/>
<line x1="179.62" y1="435.5" x2="179.62" y2="437.1" stroke="#231f20" stroke-width="0.9"/>
<line x1="184.36" y1="435.5" x2="184.36" y2="438.1" stroke="#231f20" stroke-width="0.9"/>
<line x1="189.1" y1="435.5" x2="189.1" y2="437.1" stroke="#231f20" stroke-width="0.9"/>
<line x1="193.85" y1="435.5" x2="193.85" y2="437.1" stroke="#231f20" stroke-width="0.9"/>
<line x1="198.59" y1="435.5" x2="198.59" y2="437.1" stroke="#231f20" stroke-width="0.9"/>
<line x1="203.33" y1="435.5" x2="203.33" y2="438.1" stroke="#231f20" stroke-width="0.9"/>
<line x1="208.07" y1="435.5" x2="208.07" y2="437.1" stroke="#231f20" stroke-width="0.9"/>
<line x1="212.82" y1="435.5" x2="212.82" y2="437.1" stroke="#231f20" stroke-width="0.9"/>
<line x1="217.56" y1="435.5" x2="217.56" y2="437.1" stroke="#231f20" stroke-width="0.9"/>
<line x1="222.3" y1="435.5" x2="222.3" y2="438.1" stroke="#231f20" stroke-width="0.9"/>
<text x="32.6" y="447.8" font-size="8.3" text-anchor="middle" fill="#231f20">0</text>
<text x="51.57" y="447.8" font-size="8.3" text-anchor="middle" fill="#231f20">1</text>
<text x="70.54" y="447.8" font-size="8.3" text-anchor="middle" fill="#231f20">2</text>
<text x="89.51" y="447.8" font-size="8.3" text-anchor="middle" fill="#231f20">3</text>
<text x="108.48" y="447.8" font-size="8.3" text-anchor="middle" fill="#231f20">4</text>
<text x="127.45" y="447.8" font-size="8.3" text-anchor="middle" fill="#231f20">5</text>
<text x="146.42" y="447.8" font-size="8.3" text-anchor="middle" fill="#231f20">6</text>
<text x="165.39" y="447.8" font-size="8.3" text-anchor="middle" fill="#231f20">7</text>
<text x="184.36" y="447.8" font-size="8.3" text-anchor="middle" fill="#231f20">8</text>
<text x="203.33" y="447.8" font-size="8.3" text-anchor="middle" fill="#231f20">9</text>
<text x="222.3" y="447.8" font-size="8.3" text-anchor="middle" fill="#231f20">10</text>
<line x1="29.6" y1="435.3" x2="32.6" y2="435.3" stroke="#231f20" stroke-width="0.9"/>
<text x="27.2" y="438.3" font-size="8.3" text-anchor="end" fill="#46709a">0</text>
<line x1="29.6" y1="413.2" x2="32.6" y2="413.2" stroke="#231f20" stroke-width="0.9"/>
<text x="27.2" y="416.2" font-size="8.3" text-anchor="end" fill="#46709a">100</text>
<line x1="29.6" y1="391.1" x2="32.6" y2="391.1" stroke="#231f20" stroke-width="0.9"/>
<text x="27.2" y="394.1" font-size="8.3" text-anchor="end" fill="#46709a">200</text>
<line x1="29.6" y1="369" x2="32.6" y2="369" stroke="#231f20" stroke-width="0.9"/>
<text x="27.2" y="372" font-size="8.3" text-anchor="end" fill="#46709a">300</text>
<line x1="29.6" y1="353.8" x2="32.6" y2="353.8" stroke="#231f20" stroke-width="0.9"/>
<text x="27.2" y="356.8" font-size="8.3" text-anchor="end" fill="#46709a">400</text>
<line x1="29.6" y1="343.4" x2="32.6" y2="343.4" stroke="#231f20" stroke-width="0.9"/>
<text x="27.2" y="346.4" font-size="8.3" text-anchor="end" fill="#46709a">500</text>
<line x1="29.6" y1="335" x2="32.6" y2="335" stroke="#231f20" stroke-width="0.9"/>
<text x="27.2" y="338" font-size="8.3" text-anchor="end" fill="#46709a">600</text>
<line x1="222.3" y1="435.3" x2="225.3" y2="435.3" stroke="#231f20" stroke-width="0.9"/>
<text x="227.9" y="438.3" font-size="8.3" fill="#c0435c">0</text>
<line x1="222.3" y1="391.1" x2="225.3" y2="391.1" stroke="#231f20" stroke-width="0.9"/>
<text x="227.9" y="394.1" font-size="8.3" fill="#c0435c">200</text>
<line x1="222.3" y1="363.3" x2="225.3" y2="363.3" stroke="#231f20" stroke-width="0.9"/>
<text x="227.9" y="366.3" font-size="8.3" fill="#c0435c">300</text>
<line x1="222.3" y1="353.3" x2="225.3" y2="353.3" stroke="#231f20" stroke-width="0.9"/>
<text x="227.9" y="356.3" font-size="8.3" fill="#c0435c">400</text>
<line x1="222.3" y1="343.8" x2="225.3" y2="343.8" stroke="#231f20" stroke-width="0.9"/>
<text x="227.9" y="346.8" font-size="8.3" fill="#c0435c">500</text>
<line x1="222.3" y1="334.3" x2="225.3" y2="334.3" stroke="#231f20" stroke-width="0.9"/>
<text x="227.9" y="337.3" font-size="8.3" fill="#c0435c">600</text>
<text x="135" y="461.8" font-size="10" text-anchor="middle" textLength="69.5" lengthAdjust="spacingAndGlyphs" fill="#231f20" stroke="#231f20" stroke-width="0.15">Years post AAV-cFVIII</text>
<text transform="translate(8.4,383.4) rotate(-90)" font-size="8.6" text-anchor="middle" textLength="31.5" lengthAdjust="spacingAndGlyphs" fill="#231f20" stroke="#231f20" stroke-width="0.35">ALP (IU/L)</text>
<text transform="translate(248.15,385.6) rotate(90)" font-size="8.8" text-anchor="middle" textLength="31" lengthAdjust="spacingAndGlyphs" fill="#231f20" stroke="#231f20" stroke-width="0.25">ALT (IU/L)</text>
<polyline points="32.6,399.7 33,404.2 33.5,413.9 34,411.6 35,409.9 36.5,408.8 37.5,407.6 39,408.8 40.5,410.7 48.3,415.3 75.8,416.4 95.7,414.6 124,412.6 148.7,396.9 166.5,412.4 185,405.4 188.7,401.9 203.4,383.7 216.6,381.1 222,385.2" fill="none" stroke="#2d5e86" stroke-width="1" stroke-linejoin="round"/>
<polyline points="32.8,432 33.2,424 33.8,418.4 34.5,410 35.25,399.1 36.6,335.3 40.4,399.1 48.3,422.4 75.8,422.8 95.7,420.2 124,422.9 148.7,415.5 166.5,421.5 185,411.8 188.7,419.1 203.4,412.4 216.6,410.4 222,407.4" fill="none" stroke="#bd1f40" stroke-width="1" stroke-linejoin="round"/>
<rect x="33.4" y="363.7" width="188.1" height="4.1" fill="#fff"/>
<circle cx="32.6" cy="399.7" r="1.3" fill="#1a3850"/>
<circle cx="33" cy="404.2" r="1.3" fill="#1a3850"/>
<circle cx="33.5" cy="413.9" r="1.3" fill="#1a3850"/>
<circle cx="34" cy="411.6" r="1.3" fill="#1a3850"/>
<circle cx="35" cy="409.9" r="1.3" fill="#1a3850"/>
<circle cx="36.5" cy="408.8" r="1.3" fill="#1a3850"/>
<circle cx="37.5" cy="407.6" r="1.3" fill="#1a3850"/>
<circle cx="39" cy="408.8" r="1.3" fill="#1a3850"/>
<circle cx="40.5" cy="410.7" r="1.3" fill="#1a3850"/>
<circle cx="48.3" cy="415.3" r="1.3" fill="#1a3850"/>
<circle cx="75.8" cy="416.4" r="1.3" fill="#1a3850"/>
<circle cx="95.7" cy="414.6" r="1.3" fill="#1a3850"/>
<circle cx="124" cy="412.6" r="1.3" fill="#1a3850"/>
<circle cx="148.7" cy="396.9" r="1.3" fill="#1a3850"/>
<circle cx="166.5" cy="412.4" r="1.3" fill="#1a3850"/>
<circle cx="185" cy="405.4" r="1.3" fill="#1a3850"/>
<circle cx="188.7" cy="401.9" r="1.3" fill="#1a3850"/>
<circle cx="203.4" cy="383.7" r="1.3" fill="#1a3850"/>
<circle cx="216.6" cy="381.1" r="1.3" fill="#1a3850"/>
<circle cx="222" cy="385.2" r="1.3" fill="#1a3850"/>
<circle cx="32.8" cy="432" r="1.3" fill="#9a1232"/>
<circle cx="33.2" cy="424" r="1.3" fill="#9a1232"/>
<circle cx="33.8" cy="418.4" r="1.3" fill="#9a1232"/>
<circle cx="34.5" cy="410" r="1.3" fill="#9a1232"/>
<circle cx="35.25" cy="399.1" r="1.3" fill="#9a1232"/>
<circle cx="36.6" cy="335.3" r="1.3" fill="#9a1232"/>
<circle cx="40.4" cy="399.1" r="1.3" fill="#9a1232"/>
<circle cx="48.3" cy="422.4" r="1.3" fill="#9a1232"/>
<circle cx="75.8" cy="422.8" r="1.3" fill="#9a1232"/>
<circle cx="95.7" cy="420.2" r="1.3" fill="#9a1232"/>
<circle cx="124" cy="422.9" r="1.3" fill="#9a1232"/>
<circle cx="148.7" cy="415.5" r="1.3" fill="#9a1232"/>
<circle cx="166.5" cy="421.5" r="1.3" fill="#9a1232"/>
<circle cx="185" cy="411.8" r="1.3" fill="#9a1232"/>
<circle cx="188.7" cy="419.1" r="1.3" fill="#9a1232"/>
<circle cx="203.4" cy="412.4" r="1.3" fill="#9a1232"/>
<circle cx="216.6" cy="410.4" r="1.3" fill="#9a1232"/>
<circle cx="222" cy="407.4" r="1.3" fill="#9a1232"/>
<text x="373.4" y="328.6" font-size="10.2" textLength="50.1" lengthAdjust="spacingAndGlyphs" fill="#111" stroke="#111" stroke-width="0.08">AAV8 : FLO</text>
<line x1="297" y1="406.5" x2="487" y2="406.5" stroke="#366c88" stroke-width="1" stroke-dasharray="1,1"/>
<line x1="297" y1="409.5" x2="487" y2="409.5" stroke="#dc5274" stroke-width="1" stroke-dasharray="1,1"/>
<line x1="296.8" y1="330.7" x2="296.8" y2="363.3" stroke="#231f20" stroke-width="1.3"/>
<line x1="296.8" y1="368.1" x2="296.8" y2="435.5" stroke="#231f20" stroke-width="1.3"/>
<line x1="487.5" y1="330.7" x2="487.5" y2="363.3" stroke="#231f20" stroke-width="1.3"/>
<line x1="487.5" y1="368.1" x2="487.5" y2="435.5" stroke="#231f20" stroke-width="1.3"/>
<line x1="294.6" y1="363.3" x2="299" y2="363.3" stroke="#231f20" stroke-width="1.1"/>
<line x1="294.6" y1="368.1" x2="299" y2="368.1" stroke="#231f20" stroke-width="1.1"/>
<line x1="485.3" y1="363.3" x2="489.7" y2="363.3" stroke="#231f20" stroke-width="1.1"/>
<line x1="485.3" y1="368.1" x2="489.7" y2="368.1" stroke="#231f20" stroke-width="1.1"/>
<line x1="296.2" y1="435.5" x2="488.1" y2="435.5" stroke="#231f20" stroke-width="1.3"/>
<line x1="296.8" y1="435.5" x2="296.8" y2="438.1" stroke="#231f20" stroke-width="0.9"/>
<line x1="301.57" y1="435.5" x2="301.57" y2="437.1" stroke="#231f20" stroke-width="0.9"/>
<line x1="306.34" y1="435.5" x2="306.34" y2="437.1" stroke="#231f20" stroke-width="0.9"/>
<line x1="311.1" y1="435.5" x2="311.1" y2="437.1" stroke="#231f20" stroke-width="0.9"/>
<line x1="315.87" y1="435.5" x2="315.87" y2="438.1" stroke="#231f20" stroke-width="0.9"/>
<line x1="320.64" y1="435.5" x2="320.64" y2="437.1" stroke="#231f20" stroke-width="0.9"/>
<line x1="325.41" y1="435.5" x2="325.41" y2="437.1" stroke="#231f20" stroke-width="0.9"/>
<line x1="330.17" y1="435.5" x2="330.17" y2="437.1" stroke="#231f20" stroke-width="0.9"/>
<line x1="334.94" y1="435.5" x2="334.94" y2="438.1" stroke="#231f20" stroke-width="0.9"/>
<line x1="339.71" y1="435.5" x2="339.71" y2="437.1" stroke="#231f20" stroke-width="0.9"/>
<line x1="344.48" y1="435.5" x2="344.48" y2="437.1" stroke="#231f20" stroke-width="0.9"/>
<line x1="349.24" y1="435.5" x2="349.24" y2="437.1" stroke="#231f20" stroke-width="0.9"/>
<line x1="354.01" y1="435.5" x2="354.01" y2="438.1" stroke="#231f20" stroke-width="0.9"/>
<line x1="358.78" y1="435.5" x2="358.78" y2="437.1" stroke="#231f20" stroke-width="0.9"/>
<line x1="363.55" y1="435.5" x2="363.55" y2="437.1" stroke="#231f20" stroke-width="0.9"/>
<line x1="368.31" y1="435.5" x2="368.31" y2="437.1" stroke="#231f20" stroke-width="0.9"/>
<line x1="373.08" y1="435.5" x2="373.08" y2="438.1" stroke="#231f20" stroke-width="0.9"/>
<line x1="377.85" y1="435.5" x2="377.85" y2="437.1" stroke="#231f20" stroke-width="0.9"/>
<line x1="382.62" y1="435.5" x2="382.62" y2="437.1" stroke="#231f20" stroke-width="0.9"/>
<line x1="387.38" y1="435.5" x2="387.38" y2="437.1" stroke="#231f20" stroke-width="0.9"/>
<line x1="392.15" y1="435.5" x2="392.15" y2="438.1" stroke="#231f20" stroke-width="0.9"/>
<line x1="396.92" y1="435.5" x2="396.92" y2="437.1" stroke="#231f20" stroke-width="0.9"/>
<line x1="401.69" y1="435.5" x2="401.69" y2="437.1" stroke="#231f20" stroke-width="0.9"/>
<line x1="406.45" y1="435.5" x2="406.45" y2="437.1" stroke="#231f20" stroke-width="0.9"/>
<line x1="411.22" y1="435.5" x2="411.22" y2="438.1" stroke="#231f20" stroke-width="0.9"/>
<line x1="415.99" y1="435.5" x2="415.99" y2="437.1" stroke="#231f20" stroke-width="0.9"/>
<line x1="420.75" y1="435.5" x2="420.75" y2="437.1" stroke="#231f20" stroke-width="0.9"/>
<line x1="425.52" y1="435.5" x2="425.52" y2="437.1" stroke="#231f20" stroke-width="0.9"/>
<line x1="430.29" y1="435.5" x2="430.29" y2="438.1" stroke="#231f20" stroke-width="0.9"/>
<line x1="435.06" y1="435.5" x2="435.06" y2="437.1" stroke="#231f20" stroke-width="0.9"/>
<line x1="439.83" y1="435.5" x2="439.83" y2="437.1" stroke="#231f20" stroke-width="0.9"/>
<line x1="444.59" y1="435.5" x2="444.59" y2="437.1" stroke="#231f20" stroke-width="0.9"/>
<line x1="449.36" y1="435.5" x2="449.36" y2="438.1" stroke="#231f20" stroke-width="0.9"/>
<line x1="454.13" y1="435.5" x2="454.13" y2="437.1" stroke="#231f20" stroke-width="0.9"/>
<line x1="458.89" y1="435.5" x2="458.89" y2="437.1" stroke="#231f20" stroke-width="0.9"/>
<line x1="463.66" y1="435.5" x2="463.66" y2="437.1" stroke="#231f20" stroke-width="0.9"/>
<line x1="468.43" y1="435.5" x2="468.43" y2="438.1" stroke="#231f20" stroke-width="0.9"/>
<line x1="473.2" y1="435.5" x2="473.2" y2="437.1" stroke="#231f20" stroke-width="0.9"/>
<line x1="477.97" y1="435.5" x2="477.97" y2="437.1" stroke="#231f20" stroke-width="0.9"/>
<line x1="482.73" y1="435.5" x2="482.73" y2="437.1" stroke="#231f20" stroke-width="0.9"/>
<line x1="487.5" y1="435.5" x2="487.5" y2="438.1" stroke="#231f20" stroke-width="0.9"/>
<text x="296.8" y="447.8" font-size="8.3" text-anchor="middle" fill="#231f20">0</text>
<text x="315.87" y="447.8" font-size="8.3" text-anchor="middle" fill="#231f20">1</text>
<text x="334.94" y="447.8" font-size="8.3" text-anchor="middle" fill="#231f20">2</text>
<text x="354.01" y="447.8" font-size="8.3" text-anchor="middle" fill="#231f20">3</text>
<text x="373.08" y="447.8" font-size="8.3" text-anchor="middle" fill="#231f20">4</text>
<text x="392.15" y="447.8" font-size="8.3" text-anchor="middle" fill="#231f20">5</text>
<text x="411.22" y="447.8" font-size="8.3" text-anchor="middle" fill="#231f20">6</text>
<text x="430.29" y="447.8" font-size="8.3" text-anchor="middle" fill="#231f20">7</text>
<text x="449.36" y="447.8" font-size="8.3" text-anchor="middle" fill="#231f20">8</text>
<text x="468.43" y="447.8" font-size="8.3" text-anchor="middle" fill="#231f20">9</text>
<text x="487.5" y="447.8" font-size="8.3" text-anchor="middle" fill="#231f20">10</text>
<line x1="293.8" y1="435.3" x2="296.8" y2="435.3" stroke="#231f20" stroke-width="0.9"/>
<text x="290.1" y="438.3" font-size="8.3" text-anchor="end" fill="#46709a">0</text>
<line x1="293.8" y1="413.2" x2="296.8" y2="413.2" stroke="#231f20" stroke-width="0.9"/>
<text x="290.1" y="416.2" font-size="8.3" text-anchor="end" fill="#46709a">100</text>
<line x1="293.8" y1="391.1" x2="296.8" y2="391.1" stroke="#231f20" stroke-width="0.9"/>
<text x="290.1" y="394.1" font-size="8.3" text-anchor="end" fill="#46709a">200</text>
<line x1="293.8" y1="369" x2="296.8" y2="369" stroke="#231f20" stroke-width="0.9"/>
<text x="290.1" y="372" font-size="8.3" text-anchor="end" fill="#46709a">300</text>
<line x1="293.8" y1="359.4" x2="296.8" y2="359.4" stroke="#231f20" stroke-width="0.9"/>
<text x="290.1" y="362.4" font-size="8.3" text-anchor="end" fill="#46709a">400</text>
<line x1="293.8" y1="351" x2="296.8" y2="351" stroke="#231f20" stroke-width="0.9"/>
<text x="290.1" y="354" font-size="8.3" text-anchor="end" fill="#46709a">600</text>
<line x1="293.8" y1="343" x2="296.8" y2="343" stroke="#231f20" stroke-width="0.9"/>
<text x="290.1" y="346" font-size="8.3" text-anchor="end" fill="#46709a">800</text>
<line x1="293.8" y1="334.5" x2="296.8" y2="334.5" stroke="#231f20" stroke-width="0.9"/>
<text x="290.1" y="337.5" font-size="8.3" text-anchor="end" fill="#46709a">1000</text>
<line x1="487.5" y1="435.3" x2="490.5" y2="435.3" stroke="#231f20" stroke-width="0.9"/>
<text x="493.1" y="438.3" font-size="8.3" fill="#c0435c">0</text>
<line x1="487.5" y1="413.2" x2="490.5" y2="413.2" stroke="#231f20" stroke-width="0.9"/>
<text x="493.1" y="416.2" font-size="8.3" fill="#c0435c">100</text>
<line x1="487.5" y1="391.1" x2="490.5" y2="391.1" stroke="#231f20" stroke-width="0.9"/>
<text x="493.1" y="394.1" font-size="8.3" fill="#c0435c">200</text>
<line x1="487.5" y1="369" x2="490.5" y2="369" stroke="#231f20" stroke-width="0.9"/>
<text x="493.1" y="372" font-size="8.3" fill="#c0435c">300</text>
<line x1="487.5" y1="359.4" x2="490.5" y2="359.4" stroke="#231f20" stroke-width="0.9"/>
<text x="493.1" y="362.4" font-size="8.3" fill="#c0435c">400</text>
<line x1="487.5" y1="351" x2="490.5" y2="351" stroke="#231f20" stroke-width="0.9"/>
<text x="493.1" y="354" font-size="8.3" fill="#c0435c">600</text>
<line x1="487.5" y1="343" x2="490.5" y2="343" stroke="#231f20" stroke-width="0.9"/>
<text x="493.1" y="346" font-size="8.3" fill="#c0435c">800</text>
<line x1="487.5" y1="334.5" x2="490.5" y2="334.5" stroke="#231f20" stroke-width="0.9"/>
<text x="493.1" y="337.5" font-size="8.3" fill="#c0435c">1000</text>
<text x="399" y="462" font-size="10" text-anchor="middle" textLength="69.5" lengthAdjust="spacingAndGlyphs" fill="#231f20" stroke="#231f20" stroke-width="0.15">Years post AAV-cFVIII</text>
<text transform="translate(272.6,384.4) rotate(-90)" font-size="8.6" text-anchor="middle" textLength="31.5" lengthAdjust="spacingAndGlyphs" fill="#231f20" stroke="#231f20" stroke-width="0.35">ALP (IU/L)</text>
<text transform="translate(511.9,384.3) rotate(90)" font-size="8.8" text-anchor="middle" textLength="31" lengthAdjust="spacingAndGlyphs" fill="#231f20" stroke="#231f20" stroke-width="0.25">ALT (IU/L)</text>
<polyline points="296.8,387.7 296.8,397.8 296.8,407.9 297.5,411.7 298.5,413.2 300.3,414.1 306,412.9 319,409.4 324.8,387.5 334,406.5 342.7,419 347.1,399 348.5,403.3 373.6,400.7 396.1,359.7 407.7,342.6 450.6,351.7 473.3,357.7 476.5,337 480,355.9 482.7,351.7 486.6,347.5" fill="none" stroke="#2d5e86" stroke-width="1" stroke-linejoin="round"/>
<polyline points="296.8,416.5 296.8,426 297,430 300.3,420.4 306.5,414.6 319,416.5 324.8,362.1 324.8,358.7 334,409.4 342.7,419.2 346.7,377.7 348.5,391.8 373.6,403.7 396.1,406.7 408,379.7 450.6,394.4 473.3,394.7 476.5,406.7 479.9,406.3 482.4,396.5 486.6,390.9" fill="none" stroke="#bd1f40" stroke-width="1" stroke-linejoin="round"/>
<rect x="297.6" y="363.6" width="189.1" height="4.2" fill="#fff"/>
<circle cx="296.8" cy="387.7" r="1.3" fill="#1a3850"/>
<circle cx="296.8" cy="397.8" r="1.3" fill="#1a3850"/>
<circle cx="296.8" cy="407.9" r="1.3" fill="#1a3850"/>
<circle cx="297.5" cy="411.7" r="1.3" fill="#1a3850"/>
<circle cx="298.5" cy="413.2" r="1.3" fill="#1a3850"/>
<circle cx="300.3" cy="414.1" r="1.3" fill="#1a3850"/>
<circle cx="306" cy="412.9" r="1.3" fill="#1a3850"/>
<circle cx="319" cy="409.4" r="1.3" fill="#1a3850"/>
<circle cx="324.8" cy="387.5" r="1.3" fill="#1a3850"/>
<circle cx="334" cy="406.5" r="1.3" fill="#1a3850"/>
<circle cx="342.7" cy="419" r="1.3" fill="#1a3850"/>
<circle cx="347.1" cy="399" r="1.3" fill="#1a3850"/>
<circle cx="348.5" cy="403.3" r="1.3" fill="#1a3850"/>
<circle cx="373.6" cy="400.7" r="1.3" fill="#1a3850"/>
<circle cx="396.1" cy="359.7" r="1.3" fill="#1a3850"/>
<circle cx="407.7" cy="342.6" r="1.3" fill="#1a3850"/>
<circle cx="450.6" cy="351.7" r="1.3" fill="#1a3850"/>
<circle cx="473.3" cy="357.7" r="1.3" fill="#1a3850"/>
<circle cx="476.5" cy="337" r="1.3" fill="#1a3850"/>
<circle cx="480" cy="355.9" r="1.3" fill="#1a3850"/>
<circle cx="482.7" cy="351.7" r="1.3" fill="#1a3850"/>
<circle cx="486.6" cy="347.5" r="1.3" fill="#1a3850"/>
<circle cx="296.8" cy="416.5" r="1.3" fill="#9a1232"/>
<circle cx="296.8" cy="426" r="1.3" fill="#9a1232"/>
<circle cx="297" cy="430" r="1.3" fill="#9a1232"/>
<circle cx="300.3" cy="420.4" r="1.3" fill="#9a1232"/>
<circle cx="306.5" cy="414.6" r="1.3" fill="#9a1232"/>
<circle cx="319" cy="416.5" r="1.3" fill="#9a1232"/>
<circle cx="324.8" cy="362.1" r="1.3" fill="#9a1232"/>
<circle cx="324.8" cy="358.7" r="1.3" fill="#9a1232"/>
<circle cx="334" cy="409.4" r="1.3" fill="#9a1232"/>
<circle cx="342.7" cy="419.2" r="1.3" fill="#9a1232"/>
<circle cx="346.7" cy="377.7" r="1.3" fill="#9a1232"/>
<circle cx="348.5" cy="391.8" r="1.3" fill="#9a1232"/>
<circle cx="373.6" cy="403.7" r="1.3" fill="#9a1232"/>
<circle cx="396.1" cy="406.7" r="1.3" fill="#9a1232"/>
<circle cx="408" cy="379.7" r="1.3" fill="#9a1232"/>
<circle cx="450.6" cy="394.4" r="1.3" fill="#9a1232"/>
<circle cx="473.3" cy="394.7" r="1.3" fill="#9a1232"/>
<circle cx="476.5" cy="406.7" r="1.3" fill="#9a1232"/>
<circle cx="479.9" cy="406.3" r="1.3" fill="#9a1232"/>
<circle cx="482.4" cy="396.5" r="1.3" fill="#9a1232"/>
<circle cx="486.6" cy="390.9" r="1.3" fill="#9a1232"/>
<text x="100" y="488.6" font-size="10.2" textLength="53.5" lengthAdjust="spacingAndGlyphs" fill="#111" stroke="#111" stroke-width="0.08">AAV2 : ANG</text>
<line x1="33" y1="563.5" x2="223.4" y2="563.5" stroke="#366c88" stroke-width="1" stroke-dasharray="1,1"/>
<line x1="33" y1="566.5" x2="223.4" y2="566.5" stroke="#dc5274" stroke-width="1" stroke-dasharray="1,1"/>
<line x1="32.3" y1="491" x2="32.3" y2="596.4" stroke="#231f20" stroke-width="1.3"/>
<line x1="223.9" y1="491" x2="223.9" y2="596.4" stroke="#231f20" stroke-width="1.3"/>
<line x1="31.7" y1="596.4" x2="224.5" y2="596.4" stroke="#231f20" stroke-width="1.3"/>
<line x1="32.3" y1="596.4" x2="32.3" y2="599" stroke="#231f20" stroke-width="0.9"/>
<line x1="36.29" y1="596.4" x2="36.29" y2="598" stroke="#231f20" stroke-width="0.9"/>
<line x1="40.28" y1="596.4" x2="40.28" y2="598" stroke="#231f20" stroke-width="0.9"/>
<line x1="44.27" y1="596.4" x2="44.27" y2="598" stroke="#231f20" stroke-width="0.9"/>
<line x1="48.27" y1="596.4" x2="48.27" y2="599" stroke="#231f20" stroke-width="0.9"/>
<line x1="52.26" y1="596.4" x2="52.26" y2="598" stroke="#231f20" stroke-width="0.9"/>
<line x1="56.25" y1="596.4" x2="56.25" y2="598" stroke="#231f20" stroke-width="0.9"/>
<line x1="60.24" y1="596.4" x2="60.24" y2="598" stroke="#231f20" stroke-width="0.9"/>
<line x1="64.23" y1="596.4" x2="64.23" y2="599" stroke="#231f20" stroke-width="0.9"/>
<line x1="68.22" y1="596.4" x2="68.22" y2="598" stroke="#231f20" stroke-width="0.9"/>
<line x1="72.22" y1="596.4" x2="72.22" y2="598" stroke="#231f20" stroke-width="0.9"/>
<line x1="76.21" y1="596.4" x2="76.21" y2="598" stroke="#231f20" stroke-width="0.9"/>
<line x1="80.2" y1="596.4" x2="80.2" y2="599" stroke="#231f20" stroke-width="0.9"/>
<line x1="84.19" y1="596.4" x2="84.19" y2="598" stroke="#231f20" stroke-width="0.9"/>
<line x1="88.18" y1="596.4" x2="88.18" y2="598" stroke="#231f20" stroke-width="0.9"/>
<line x1="92.18" y1="596.4" x2="92.18" y2="598" stroke="#231f20" stroke-width="0.9"/>
<line x1="96.17" y1="596.4" x2="96.17" y2="599" stroke="#231f20" stroke-width="0.9"/>
<line x1="100.16" y1="596.4" x2="100.16" y2="598" stroke="#231f20" stroke-width="0.9"/>
<line x1="104.15" y1="596.4" x2="104.15" y2="598" stroke="#231f20" stroke-width="0.9"/>
<line x1="108.14" y1="596.4" x2="108.14" y2="598" stroke="#231f20" stroke-width="0.9"/>
<line x1="112.13" y1="596.4" x2="112.13" y2="599" stroke="#231f20" stroke-width="0.9"/>
<line x1="116.13" y1="596.4" x2="116.13" y2="598" stroke="#231f20" stroke-width="0.9"/>
<line x1="120.12" y1="596.4" x2="120.12" y2="598" stroke="#231f20" stroke-width="0.9"/>
<line x1="124.11" y1="596.4" x2="124.11" y2="598" stroke="#231f20" stroke-width="0.9"/>
<line x1="128.1" y1="596.4" x2="128.1" y2="599" stroke="#231f20" stroke-width="0.9"/>
<line x1="132.09" y1="596.4" x2="132.09" y2="598" stroke="#231f20" stroke-width="0.9"/>
<line x1="136.08" y1="596.4" x2="136.08" y2="598" stroke="#231f20" stroke-width="0.9"/>
<line x1="140.07" y1="596.4" x2="140.07" y2="598" stroke="#231f20" stroke-width="0.9"/>
<line x1="144.07" y1="596.4" x2="144.07" y2="599" stroke="#231f20" stroke-width="0.9"/>
<line x1="148.06" y1="596.4" x2="148.06" y2="598" stroke="#231f20" stroke-width="0.9"/>
<line x1="152.05" y1="596.4" x2="152.05" y2="598" stroke="#231f20" stroke-width="0.9"/>
<line x1="156.04" y1="596.4" x2="156.04" y2="598" stroke="#231f20" stroke-width="0.9"/>
<line x1="160.03" y1="596.4" x2="160.03" y2="599" stroke="#231f20" stroke-width="0.9"/>
<line x1="164.03" y1="596.4" x2="164.03" y2="598" stroke="#231f20" stroke-width="0.9"/>
<line x1="168.02" y1="596.4" x2="168.02" y2="598" stroke="#231f20" stroke-width="0.9"/>
<line x1="172.01" y1="596.4" x2="172.01" y2="598" stroke="#231f20" stroke-width="0.9"/>
<line x1="176" y1="596.4" x2="176" y2="599" stroke="#231f20" stroke-width="0.9"/>
<line x1="179.99" y1="596.4" x2="179.99" y2="598" stroke="#231f20" stroke-width="0.9"/>
<line x1="183.98" y1="596.4" x2="183.98" y2="598" stroke="#231f20" stroke-width="0.9"/>
<line x1="187.98" y1="596.4" x2="187.98" y2="598" stroke="#231f20" stroke-width="0.9"/>
<line x1="191.97" y1="596.4" x2="191.97" y2="599" stroke="#231f20" stroke-width="0.9"/>
<line x1="195.96" y1="596.4" x2="195.96" y2="598" stroke="#231f20" stroke-width="0.9"/>
<line x1="199.95" y1="596.4" x2="199.95" y2="598" stroke="#231f20" stroke-width="0.9"/>
<line x1="203.94" y1="596.4" x2="203.94" y2="598" stroke="#231f20" stroke-width="0.9"/>
<line x1="207.93" y1="596.4" x2="207.93" y2="599" stroke="#231f20" stroke-width="0.9"/>
<line x1="211.93" y1="596.4" x2="211.93" y2="598" stroke="#231f20" stroke-width="0.9"/>
<line x1="215.92" y1="596.4" x2="215.92" y2="598" stroke="#231f20" stroke-width="0.9"/>
<line x1="219.91" y1="596.4" x2="219.91" y2="598" stroke="#231f20" stroke-width="0.9"/>
<line x1="223.9" y1="596.4" x2="223.9" y2="599" stroke="#231f20" stroke-width="0.9"/>
<text x="32.3" y="608.7" font-size="8.3" text-anchor="middle" fill="#231f20">0</text>
<text x="48.27" y="608.7" font-size="8.3" text-anchor="middle" fill="#231f20">1</text>
<text x="64.23" y="608.7" font-size="8.3" text-anchor="middle" fill="#231f20">2</text>
<text x="80.2" y="608.7" font-size="8.3" text-anchor="middle" fill="#231f20">3</text>
<text x="96.17" y="608.7" font-size="8.3" text-anchor="middle" fill="#231f20">4</text>
<text x="112.13" y="608.7" font-size="8.3" text-anchor="middle" fill="#231f20">5</text>
<text x="128.1" y="608.7" font-size="8.3" text-anchor="middle" fill="#231f20">6</text>
<text x="144.07" y="608.7" font-size="8.3" text-anchor="middle" fill="#231f20">7</text>
<text x="160.03" y="608.7" font-size="8.3" text-anchor="middle" fill="#231f20">8</text>
<text x="176" y="608.7" font-size="8.3" text-anchor="middle" fill="#231f20">9</text>
<text x="191.97" y="608.7" font-size="8.3" text-anchor="middle" fill="#231f20">10</text>
<text x="207.93" y="608.7" font-size="8.3" text-anchor="middle" fill="#231f20">11</text>
<text x="223.9" y="608.7" font-size="8.3" text-anchor="middle" fill="#231f20">12</text>
<line x1="29.3" y1="596.4" x2="32.3" y2="596.4" stroke="#231f20" stroke-width="0.9"/>
<text x="26.9" y="599.4" font-size="8.3" text-anchor="end" fill="#46709a">0</text>
<line x1="29.3" y1="571.2" x2="32.3" y2="571.2" stroke="#231f20" stroke-width="0.9"/>
<text x="26.9" y="574.2" font-size="8.3" text-anchor="end" fill="#46709a">100</text>
<line x1="29.3" y1="546" x2="32.3" y2="546" stroke="#231f20" stroke-width="0.9"/>
<text x="26.9" y="549" font-size="8.3" text-anchor="end" fill="#46709a">200</text>
<line x1="29.3" y1="520.8" x2="32.3" y2="520.8" stroke="#231f20" stroke-width="0.9"/>
<text x="26.9" y="523.8" font-size="8.3" text-anchor="end" fill="#46709a">300</text>
<line x1="29.3" y1="495.6" x2="32.3" y2="495.6" stroke="#231f20" stroke-width="0.9"/>
<text x="26.9" y="498.6" font-size="8.3" text-anchor="end" fill="#46709a">400</text>
<line x1="223.9" y1="596.4" x2="226.9" y2="596.4" stroke="#231f20" stroke-width="0.9"/>
<text x="229.5" y="599.4" font-size="8.3" fill="#c0435c">0</text>
<line x1="223.9" y1="571.2" x2="226.9" y2="571.2" stroke="#231f20" stroke-width="0.9"/>
<text x="229.5" y="574.2" font-size="8.3" fill="#c0435c">100</text>
<line x1="223.9" y1="546" x2="226.9" y2="546" stroke="#231f20" stroke-width="0.9"/>
<text x="229.5" y="549" font-size="8.3" fill="#c0435c">200</text>
<line x1="223.9" y1="520.8" x2="226.9" y2="520.8" stroke="#231f20" stroke-width="0.9"/>
<text x="229.5" y="523.8" font-size="8.3" fill="#c0435c">300</text>
<line x1="223.9" y1="495.6" x2="226.9" y2="495.6" stroke="#231f20" stroke-width="0.9"/>
<text x="229.5" y="498.6" font-size="8.3" fill="#c0435c">400</text>
<text x="135" y="622.6" font-size="10" text-anchor="middle" textLength="69.5" lengthAdjust="spacingAndGlyphs" fill="#231f20" stroke="#231f20" stroke-width="0.15">Years post AAV-cFVIII</text>
<text transform="translate(8.1,546.4) rotate(-90)" font-size="8.6" text-anchor="middle" textLength="31.5" lengthAdjust="spacingAndGlyphs" fill="#231f20" stroke="#231f20" stroke-width="0.35">ALP (IU/L)</text>
<text transform="translate(249.4,546.3) rotate(90)" font-size="8.8" text-anchor="middle" textLength="31" lengthAdjust="spacingAndGlyphs" fill="#231f20" stroke="#231f20" stroke-width="0.25">ALT (IU/L)</text>
<polyline points="32.7,545.5 32.7,557.4 32.7,563 32.7,572.3 33.5,573 44,573.8 58.5,570.8 74.4,573.8 79.4,574.8 81,578.1 82.5,574 84.4,578.8 86,575.3 88.1,578.8 90,577.5 91.3,580 93.1,575.6 110,576.5 119.7,573 121.8,570.9 125.2,573.6 133,571.9 152,569.8 169.6,563.9 186,512.6 189.6,536.6 197.4,515.6 201,523.3 201.3,562.3 204.5,511.5 206,565 210,520.8" fill="none" stroke="#2d5e86" stroke-width="1" stroke-linejoin="round"/>
<polyline points="32.7,532.5 32.7,538.1 32.7,578 32.7,583.8 33,585.4 44,584.5 58.5,574.2 74.4,576.9 80.6,581.9 82.5,584.4 84.4,580.6 86.3,572.5 88.1,580.6 90.6,583.1 93.1,581.9 110,575.3 119.7,577.8 121.3,575 125.2,578.7 133,576.6 152,572.3 169.6,567.7 186,530.3 189.6,547.3 197.4,526.6 201.3,542.1 201.3,568.8 204.9,525.7 206.2,569.3 210.3,532.3" fill="none" stroke="#bd1f40" stroke-width="1" stroke-linejoin="round"/>
<circle cx="32.7" cy="545.5" r="1.3" fill="#1a3850"/>
<circle cx="32.7" cy="557.4" r="1.3" fill="#1a3850"/>
<circle cx="32.7" cy="563" r="1.3" fill="#1a3850"/>
<circle cx="32.7" cy="572.3" r="1.3" fill="#1a3850"/>
<circle cx="33.5" cy="573" r="1.3" fill="#1a3850"/>
<circle cx="44" cy="573.8" r="1.3" fill="#1a3850"/>
<circle cx="58.5" cy="570.8" r="1.3" fill="#1a3850"/>
<circle cx="74.4" cy="573.8" r="1.3" fill="#1a3850"/>
<circle cx="79.4" cy="574.8" r="1.3" fill="#1a3850"/>
<circle cx="81" cy="578.1" r="1.3" fill="#1a3850"/>
<circle cx="82.5" cy="574" r="1.3" fill="#1a3850"/>
<circle cx="84.4" cy="578.8" r="1.3" fill="#1a3850"/>
<circle cx="86" cy="575.3" r="1.3" fill="#1a3850"/>
<circle cx="88.1" cy="578.8" r="1.3" fill="#1a3850"/>
<circle cx="90" cy="577.5" r="1.3" fill="#1a3850"/>
<circle cx="91.3" cy="580" r="1.3" fill="#1a3850"/>
<circle cx="93.1" cy="575.6" r="1.3" fill="#1a3850"/>
<circle cx="110" cy="576.5" r="1.3" fill="#1a3850"/>
<circle cx="119.7" cy="573" r="1.3" fill="#1a3850"/>
<circle cx="121.8" cy="570.9" r="1.3" fill="#1a3850"/>
<circle cx="125.2" cy="573.6" r="1.3" fill="#1a3850"/>
<circle cx="133" cy="571.9" r="1.3" fill="#1a3850"/>
<circle cx="152" cy="569.8" r="1.3" fill="#1a3850"/>
<circle cx="169.6" cy="563.9" r="1.3" fill="#1a3850"/>
<circle cx="186" cy="512.6" r="1.3" fill="#1a3850"/>
<circle cx="189.6" cy="536.6" r="1.3" fill="#1a3850"/>
<circle cx="197.4" cy="515.6" r="1.3" fill="#1a3850"/>
<circle cx="201" cy="523.3" r="1.3" fill="#1a3850"/>
<circle cx="201.3" cy="562.3" r="1.3" fill="#1a3850"/>
<circle cx="204.5" cy="511.5" r="1.3" fill="#1a3850"/>
<circle cx="206" cy="565" r="1.3" fill="#1a3850"/>
<circle cx="210" cy="520.8" r="1.3" fill="#1a3850"/>
<circle cx="32.7" cy="532.5" r="1.3" fill="#9a1232"/>
<circle cx="32.7" cy="538.1" r="1.3" fill="#9a1232"/>
<circle cx="32.7" cy="578" r="1.3" fill="#9a1232"/>
<circle cx="32.7" cy="583.8" r="1.3" fill="#9a1232"/>
<circle cx="33" cy="585.4" r="1.3" fill="#9a1232"/>
<circle cx="44" cy="584.5" r="1.3" fill="#9a1232"/>
<circle cx="58.5" cy="574.2" r="1.3" fill="#9a1232"/>
<circle cx="74.4" cy="576.9" r="1.3" fill="#9a1232"/>
<circle cx="80.6" cy="581.9" r="1.3" fill="#9a1232"/>
<circle cx="82.5" cy="584.4" r="1.3" fill="#9a1232"/>
<circle cx="84.4" cy="580.6" r="1.3" fill="#9a1232"/>
<circle cx="86.3" cy="572.5" r="1.3" fill="#9a1232"/>
<circle cx="88.1" cy="580.6" r="1.3" fill="#9a1232"/>
<circle cx="90.6" cy="583.1" r="1.3" fill="#9a1232"/>
<circle cx="93.1" cy="581.9" r="1.3" fill="#9a1232"/>
<circle cx="110" cy="575.3" r="1.3" fill="#9a1232"/>
<circle cx="119.7" cy="577.8" r="1.3" fill="#9a1232"/>
<circle cx="121.3" cy="575" r="1.3" fill="#9a1232"/>
<circle cx="125.2" cy="578.7" r="1.3" fill="#9a1232"/>
<circle cx="133" cy="576.6" r="1.3" fill="#9a1232"/>
<circle cx="152" cy="572.3" r="1.3" fill="#9a1232"/>
<circle cx="169.6" cy="567.7" r="1.3" fill="#9a1232"/>
<circle cx="186" cy="530.3" r="1.3" fill="#9a1232"/>
<circle cx="189.6" cy="547.3" r="1.3" fill="#9a1232"/>
<circle cx="197.4" cy="526.6" r="1.3" fill="#9a1232"/>
<circle cx="201.3" cy="542.1" r="1.3" fill="#9a1232"/>
<circle cx="201.3" cy="568.8" r="1.3" fill="#9a1232"/>
<circle cx="204.9" cy="525.7" r="1.3" fill="#9a1232"/>
<circle cx="206.2" cy="569.3" r="1.3" fill="#9a1232"/>
<circle cx="210.3" cy="532.3" r="1.3" fill="#9a1232"/>
<text x="374.6" y="488.6" font-size="10.2" textLength="48" lengthAdjust="spacingAndGlyphs" fill="#111" stroke="#111" stroke-width="0.08">AAV2 : MG</text>
<line x1="297" y1="563.5" x2="487.2" y2="563.5" stroke="#366c88" stroke-width="1" stroke-dasharray="1,1"/>
<line x1="297" y1="566.5" x2="487.2" y2="566.5" stroke="#dc5274" stroke-width="1" stroke-dasharray="1,1"/>
<line x1="296.6" y1="491" x2="296.6" y2="596.4" stroke="#231f20" stroke-width="1.3"/>
<line x1="487.7" y1="491" x2="487.7" y2="596.4" stroke="#231f20" stroke-width="1.3"/>
<line x1="296" y1="596.4" x2="488.3" y2="596.4" stroke="#231f20" stroke-width="1.3"/>
<line x1="296.6" y1="596.4" x2="296.6" y2="599" stroke="#231f20" stroke-width="0.9"/>
<line x1="300.58" y1="596.4" x2="300.58" y2="598" stroke="#231f20" stroke-width="0.9"/>
<line x1="304.56" y1="596.4" x2="304.56" y2="598" stroke="#231f20" stroke-width="0.9"/>
<line x1="308.54" y1="596.4" x2="308.54" y2="598" stroke="#231f20" stroke-width="0.9"/>
<line x1="312.53" y1="596.4" x2="312.53" y2="599" stroke="#231f20" stroke-width="0.9"/>
<line x1="316.51" y1="596.4" x2="316.51" y2="598" stroke="#231f20" stroke-width="0.9"/>
<line x1="320.49" y1="596.4" x2="320.49" y2="598" stroke="#231f20" stroke-width="0.9"/>
<line x1="324.47" y1="596.4" x2="324.47" y2="598" stroke="#231f20" stroke-width="0.9"/>
<line x1="328.45" y1="596.4" x2="328.45" y2="599" stroke="#231f20" stroke-width="0.9"/>
<line x1="332.43" y1="596.4" x2="332.43" y2="598" stroke="#231f20" stroke-width="0.9"/>
<line x1="336.41" y1="596.4" x2="336.41" y2="598" stroke="#231f20" stroke-width="0.9"/>
<line x1="340.39" y1="596.4" x2="340.39" y2="598" stroke="#231f20" stroke-width="0.9"/>
<line x1="344.38" y1="596.4" x2="344.38" y2="599" stroke="#231f20" stroke-width="0.9"/>
<line x1="348.36" y1="596.4" x2="348.36" y2="598" stroke="#231f20" stroke-width="0.9"/>
<line x1="352.34" y1="596.4" x2="352.34" y2="598" stroke="#231f20" stroke-width="0.9"/>
<line x1="356.32" y1="596.4" x2="356.32" y2="598" stroke="#231f20" stroke-width="0.9"/>
<line x1="360.3" y1="596.4" x2="360.3" y2="599" stroke="#231f20" stroke-width="0.9"/>
<line x1="364.28" y1="596.4" x2="364.28" y2="598" stroke="#231f20" stroke-width="0.9"/>
<line x1="368.26" y1="596.4" x2="368.26" y2="598" stroke="#231f20" stroke-width="0.9"/>
<line x1="372.24" y1="596.4" x2="372.24" y2="598" stroke="#231f20" stroke-width="0.9"/>
<line x1="376.23" y1="596.4" x2="376.23" y2="599" stroke="#231f20" stroke-width="0.9"/>
<line x1="380.21" y1="596.4" x2="380.21" y2="598" stroke="#231f20" stroke-width="0.9"/>
<line x1="384.19" y1="596.4" x2="384.19" y2="598" stroke="#231f20" stroke-width="0.9"/>
<line x1="388.17" y1="596.4" x2="388.17" y2="598" stroke="#231f20" stroke-width="0.9"/>
<line x1="392.15" y1="596.4" x2="392.15" y2="599" stroke="#231f20" stroke-width="0.9"/>
<line x1="396.13" y1="596.4" x2="396.13" y2="598" stroke="#231f20" stroke-width="0.9"/>
<line x1="400.11" y1="596.4" x2="400.11" y2="598" stroke="#231f20" stroke-width="0.9"/>
<line x1="404.09" y1="596.4" x2="404.09" y2="598" stroke="#231f20" stroke-width="0.9"/>
<line x1="408.07" y1="596.4" x2="408.07" y2="599" stroke="#231f20" stroke-width="0.9"/>
<line x1="412.06" y1="596.4" x2="412.06" y2="598" stroke="#231f20" stroke-width="0.9"/>
<line x1="416.04" y1="596.4" x2="416.04" y2="598" stroke="#231f20" stroke-width="0.9"/>
<line x1="420.02" y1="596.4" x2="420.02" y2="598" stroke="#231f20" stroke-width="0.9"/>
<line x1="424" y1="596.4" x2="424" y2="599" stroke="#231f20" stroke-width="0.9"/>
<line x1="427.98" y1="596.4" x2="427.98" y2="598" stroke="#231f20" stroke-width="0.9"/>
<line x1="431.96" y1="596.4" x2="431.96" y2="598" stroke="#231f20" stroke-width="0.9"/>
<line x1="435.94" y1="596.4" x2="435.94" y2="598" stroke="#231f20" stroke-width="0.9"/>
<line x1="439.93" y1="596.4" x2="439.93" y2="599" stroke="#231f20" stroke-width="0.9"/>
<line x1="443.91" y1="596.4" x2="443.91" y2="598" stroke="#231f20" stroke-width="0.9"/>
<line x1="447.89" y1="596.4" x2="447.89" y2="598" stroke="#231f20" stroke-width="0.9"/>
<line x1="451.87" y1="596.4" x2="451.87" y2="598" stroke="#231f20" stroke-width="0.9"/>
<line x1="455.85" y1="596.4" x2="455.85" y2="599" stroke="#231f20" stroke-width="0.9"/>
<line x1="459.83" y1="596.4" x2="459.83" y2="598" stroke="#231f20" stroke-width="0.9"/>
<line x1="463.81" y1="596.4" x2="463.81" y2="598" stroke="#231f20" stroke-width="0.9"/>
<line x1="467.79" y1="596.4" x2="467.79" y2="598" stroke="#231f20" stroke-width="0.9"/>
<line x1="471.77" y1="596.4" x2="471.77" y2="599" stroke="#231f20" stroke-width="0.9"/>
<line x1="475.76" y1="596.4" x2="475.76" y2="598" stroke="#231f20" stroke-width="0.9"/>
<line x1="479.74" y1="596.4" x2="479.74" y2="598" stroke="#231f20" stroke-width="0.9"/>
<line x1="483.72" y1="596.4" x2="483.72" y2="598" stroke="#231f20" stroke-width="0.9"/>
<line x1="487.7" y1="596.4" x2="487.7" y2="599" stroke="#231f20" stroke-width="0.9"/>
<text x="296.6" y="608.7" font-size="8.3" text-anchor="middle" fill="#231f20">0</text>
<text x="312.53" y="608.7" font-size="8.3" text-anchor="middle" fill="#231f20">1</text>
<text x="328.45" y="608.7" font-size="8.3" text-anchor="middle" fill="#231f20">2</text>
<text x="344.38" y="608.7" font-size="8.3" text-anchor="middle" fill="#231f20">3</text>
<text x="360.3" y="608.7" font-size="8.3" text-anchor="middle" fill="#231f20">4</text>
<text x="376.23" y="608.7" font-size="8.3" text-anchor="middle" fill="#231f20">5</text>
<text x="392.15" y="608.7" font-size="8.3" text-anchor="middle" fill="#231f20">6</text>
<text x="408.07" y="608.7" font-size="8.3" text-anchor="middle" fill="#231f20">7</text>
<text x="424" y="608.7" font-size="8.3" text-anchor="middle" fill="#231f20">8</text>
<text x="439.93" y="608.7" font-size="8.3" text-anchor="middle" fill="#231f20">9</text>
<text x="455.85" y="608.7" font-size="8.3" text-anchor="middle" fill="#231f20">10</text>
<text x="471.77" y="608.7" font-size="8.3" text-anchor="middle" fill="#231f20">11</text>
<text x="487.7" y="608.7" font-size="8.3" text-anchor="middle" fill="#231f20">12</text>
<line x1="293.6" y1="596.4" x2="296.6" y2="596.4" stroke="#231f20" stroke-width="0.9"/>
<text x="291.2" y="599.4" font-size="8.3" text-anchor="end" fill="#46709a">0</text>
<line x1="293.6" y1="571.2" x2="296.6" y2="571.2" stroke="#231f20" stroke-width="0.9"/>
<text x="291.2" y="574.2" font-size="8.3" text-anchor="end" fill="#46709a">100</text>
<line x1="293.6" y1="546" x2="296.6" y2="546" stroke="#231f20" stroke-width="0.9"/>
<text x="291.2" y="549" font-size="8.3" text-anchor="end" fill="#46709a">200</text>
<line x1="293.6" y1="520.8" x2="296.6" y2="520.8" stroke="#231f20" stroke-width="0.9"/>
<text x="291.2" y="523.8" font-size="8.3" text-anchor="end" fill="#46709a">300</text>
<line x1="293.6" y1="495.6" x2="296.6" y2="495.6" stroke="#231f20" stroke-width="0.9"/>
<text x="291.2" y="498.6" font-size="8.3" text-anchor="end" fill="#46709a">400</text>
<line x1="487.7" y1="596.4" x2="490.7" y2="596.4" stroke="#231f20" stroke-width="0.9"/>
<text x="493.3" y="599.4" font-size="8.3" fill="#c0435c">0</text>
<line x1="487.7" y1="571.2" x2="490.7" y2="571.2" stroke="#231f20" stroke-width="0.9"/>
<text x="493.3" y="574.2" font-size="8.3" fill="#c0435c">100</text>
<line x1="487.7" y1="546" x2="490.7" y2="546" stroke="#231f20" stroke-width="0.9"/>
<text x="493.3" y="549" font-size="8.3" fill="#c0435c">200</text>
<line x1="487.7" y1="520.8" x2="490.7" y2="520.8" stroke="#231f20" stroke-width="0.9"/>
<text x="493.3" y="523.8" font-size="8.3" fill="#c0435c">300</text>
<line x1="487.7" y1="495.6" x2="490.7" y2="495.6" stroke="#231f20" stroke-width="0.9"/>
<text x="493.3" y="498.6" font-size="8.3" fill="#c0435c">400</text>
<text x="399" y="622.6" font-size="10" text-anchor="middle" textLength="69.5" lengthAdjust="spacingAndGlyphs" fill="#231f20" stroke="#231f20" stroke-width="0.15">Years post AAV-cFVIII</text>
<text transform="translate(272.4,546.3) rotate(-90)" font-size="8.6" text-anchor="middle" textLength="31.5" lengthAdjust="spacingAndGlyphs" fill="#231f20" stroke="#231f20" stroke-width="0.35">ALP (IU/L)</text>
<text transform="translate(512.9,546.6) rotate(90)" font-size="8.8" text-anchor="middle" textLength="31" lengthAdjust="spacingAndGlyphs" fill="#231f20" stroke="#231f20" stroke-width="0.25">ALT (IU/L)</text>
<polyline points="296.8,571.8 297.5,578.1 298.5,576.6 301,577.6 302.5,580.5 303,575.7 303.5,581.9 305,583.8 317.5,586.3 339.6,588.5 340.8,579.8 341.3,583.3 343.7,587.3 345.4,589 348.6,582.1 349.8,584.4 350.6,585.2 367.9,584.4 379.4,579.8 381.2,588.5 384.4,585.6 393.5,592.4 394.1,519.9 394.1,524 394.1,534.4 394.1,538.9 394.1,544 395.5,547.5 413,586.7 413.5,582.8 414,579.3 414.5,575.8 415.2,572.3 416,575.1 417,571.6 417.5,577.9 417.9,562.5 420,580 427.8,560.3 430.6,585 449,583.8 461,580.6 466,556.5 471.3,581.9 476.3,584.8" fill="none" stroke="#2d5e86" stroke-width="1" stroke-linejoin="round"/>
<polyline points="296.8,582.9 297.2,588.7 297.5,591.5 299,583.8 301,582.9 303,573.8 303.5,584.8 304.5,588.7 317.5,586.3 339.6,592.5 341.3,589.6 343.7,587.9 348.6,591.9 350,589 367.9,589.3 379.4,589.3 381.2,589 384.4,588.5 393,588.5 394.1,556.3 394.1,560 394.1,565 394.1,570 394.1,575 395.5,582.1 413,587.7 415,589.8 416,591.7 417,589.1 420,588.4 427.7,593.8 430.6,586.9 449,588.8 461,588.4 466,584 471.5,583.1" fill="none" stroke="#bd1f40" stroke-width="1" stroke-linejoin="round"/>
<circle cx="296.8" cy="571.8" r="1.3" fill="#1a3850"/>
<circle cx="297.5" cy="578.1" r="1.3" fill="#1a3850"/>
<circle cx="298.5" cy="576.6" r="1.3" fill="#1a3850"/>
<circle cx="301" cy="577.6" r="1.3" fill="#1a3850"/>
<circle cx="302.5" cy="580.5" r="1.3" fill="#1a3850"/>
<circle cx="303" cy="575.7" r="1.3" fill="#1a3850"/>
<circle cx="303.5" cy="581.9" r="1.3" fill="#1a3850"/>
<circle cx="305" cy="583.8" r="1.3" fill="#1a3850"/>
<circle cx="317.5" cy="586.3" r="1.3" fill="#1a3850"/>
<circle cx="339.6" cy="588.5" r="1.3" fill="#1a3850"/>
<circle cx="340.8" cy="579.8" r="1.3" fill="#1a3850"/>
<circle cx="341.3" cy="583.3" r="1.3" fill="#1a3850"/>
<circle cx="343.7" cy="587.3" r="1.3" fill="#1a3850"/>
<circle cx="345.4" cy="589" r="1.3" fill="#1a3850"/>
<circle cx="348.6" cy="582.1" r="1.3" fill="#1a3850"/>
<circle cx="349.8" cy="584.4" r="1.3" fill="#1a3850"/>
<circle cx="350.6" cy="585.2" r="1.3" fill="#1a3850"/>
<circle cx="367.9" cy="584.4" r="1.3" fill="#1a3850"/>
<circle cx="379.4" cy="579.8" r="1.3" fill="#1a3850"/>
<circle cx="381.2" cy="588.5" r="1.3" fill="#1a3850"/>
<circle cx="384.4" cy="585.6" r="1.3" fill="#1a3850"/>
<circle cx="393.5" cy="592.4" r="1.3" fill="#1a3850"/>
<circle cx="394.1" cy="519.9" r="1.3" fill="#1a3850"/>
<circle cx="394.1" cy="524" r="1.3" fill="#1a3850"/>
<circle cx="394.1" cy="534.4" r="1.3" fill="#1a3850"/>
<circle cx="394.1" cy="538.9" r="1.3" fill="#1a3850"/>
<circle cx="394.1" cy="544" r="1.3" fill="#1a3850"/>
<circle cx="395.5" cy="547.5" r="1.3" fill="#1a3850"/>
<circle cx="413" cy="586.7" r="1.3" fill="#1a3850"/>
<circle cx="413.5" cy="582.8" r="1.3" fill="#1a3850"/>
<circle cx="414" cy="579.3" r="1.3" fill="#1a3850"/>
<circle cx="414.5" cy="575.8" r="1.3" fill="#1a3850"/>
<circle cx="415.2" cy="572.3" r="1.3" fill="#1a3850"/>
<circle cx="416" cy="575.1" r="1.3" fill="#1a3850"/>
<circle cx="417" cy="571.6" r="1.3" fill="#1a3850"/>
<circle cx="417.5" cy="577.9" r="1.3" fill="#1a3850"/>
<circle cx="417.9" cy="562.5" r="1.3" fill="#1a3850"/>
<circle cx="420" cy="580" r="1.3" fill="#1a3850"/>
<circle cx="427.8" cy="560.3" r="1.3" fill="#1a3850"/>
<circle cx="430.6" cy="585" r="1.3" fill="#1a3850"/>
<circle cx="449" cy="583.8" r="1.3" fill="#1a3850"/>
<circle cx="461" cy="580.6" r="1.3" fill="#1a3850"/>
<circle cx="466" cy="556.5" r="1.3" fill="#1a3850"/>
<circle cx="471.3" cy="581.9" r="1.3" fill="#1a3850"/>
<circle cx="476.3" cy="584.8" r="1.3" fill="#1a3850"/>
<circle cx="296.8" cy="582.9" r="1.3" fill="#9a1232"/>
<circle cx="297.2" cy="588.7" r="1.3" fill="#9a1232"/>
<circle cx="297.5" cy="591.5" r="1.3" fill="#9a1232"/>
<circle cx="299" cy="583.8" r="1.3" fill="#9a1232"/>
<circle cx="301" cy="582.9" r="1.3" fill="#9a1232"/>
<circle cx="303" cy="573.8" r="1.3" fill="#9a1232"/>
<circle cx="303.5" cy="584.8" r="1.3" fill="#9a1232"/>
<circle cx="304.5" cy="588.7" r="1.3" fill="#9a1232"/>
<circle cx="317.5" cy="586.3" r="1.3" fill="#9a1232"/>
<circle cx="339.6" cy="592.5" r="1.3" fill="#9a1232"/>
<circle cx="341.3" cy="589.6" r="1.3" fill="#9a1232"/>
<circle cx="343.7" cy="587.9" r="1.3" fill="#9a1232"/>
<circle cx="348.6" cy="591.9" r="1.3" fill="#9a1232"/>
<circle cx="350" cy="589" r="1.3" fill="#9a1232"/>
<circle cx="367.9" cy="589.3" r="1.3" fill="#9a1232"/>
<circle cx="379.4" cy="589.3" r="1.3" fill="#9a1232"/>
<circle cx="381.2" cy="589" r="1.3" fill="#9a1232"/>
<circle cx="384.4" cy="588.5" r="1.3" fill="#9a1232"/>
<circle cx="393" cy="588.5" r="1.3" fill="#9a1232"/>
<circle cx="394.1" cy="556.3" r="1.3" fill="#9a1232"/>
<circle cx="394.1" cy="560" r="1.3" fill="#9a1232"/>
<circle cx="394.1" cy="565" r="1.3" fill="#9a1232"/>
<circle cx="394.1" cy="570" r="1.3" fill="#9a1232"/>
<circle cx="394.1" cy="575" r="1.3" fill="#9a1232"/>
<circle cx="395.5" cy="582.1" r="1.3" fill="#9a1232"/>
<circle cx="413" cy="587.7" r="1.3" fill="#9a1232"/>
<circle cx="415" cy="589.8" r="1.3" fill="#9a1232"/>
<circle cx="416" cy="591.7" r="1.3" fill="#9a1232"/>
<circle cx="417" cy="589.1" r="1.3" fill="#9a1232"/>
<circle cx="420" cy="588.4" r="1.3" fill="#9a1232"/>
<circle cx="427.7" cy="593.8" r="1.3" fill="#9a1232"/>
<circle cx="430.6" cy="586.9" r="1.3" fill="#9a1232"/>
<circle cx="449" cy="588.8" r="1.3" fill="#9a1232"/>
<circle cx="461" cy="588.4" r="1.3" fill="#9a1232"/>
<circle cx="466" cy="584" r="1.3" fill="#9a1232"/>
<circle cx="471.5" cy="583.1" r="1.3" fill="#9a1232"/>

<line x1="137" y1="637.6" x2="150" y2="637.6" stroke="#2d5e86" stroke-width="1.1"/>
<circle cx="143.5" cy="637.6" r="1.3" fill="#2d5e86"/>
<text x="154.3" y="640.2" font-size="7.5" fill="#231f20" stroke="#231f20" stroke-width="0.12">Alkaline phosphatase (ALP)</text>
<line x1="261.3" y1="637.6" x2="273.8" y2="637.6" stroke="#bd1f40" stroke-width="1.1"/>
<circle cx="267.5" cy="637.6" r="1.3" fill="#bd1f40"/>
<text x="277.5" y="640.2" font-size="7.5" fill="#231f20" stroke="#231f20" stroke-width="0.12">Alanine aminotransferase (ALT)</text>

</svg>
</body></html>
